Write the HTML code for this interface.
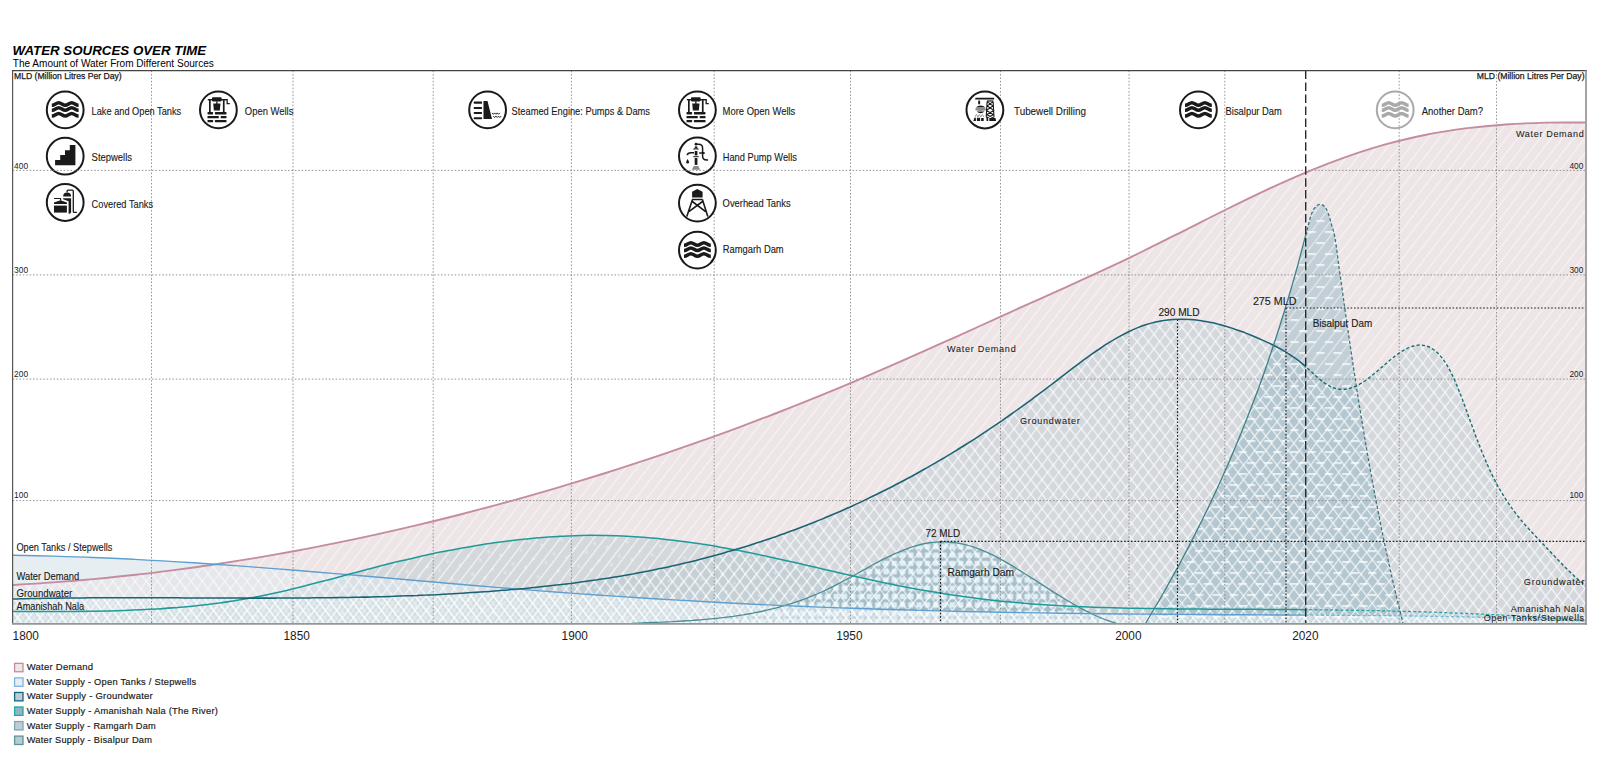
<!DOCTYPE html>
<html lang="en">
<head>
<meta charset="utf-8">
<title>Water Sources Over Time</title>
<style>
html,body{margin:0;padding:0;background:#fff;}
body{width:1600px;height:780px;overflow:hidden;font-family:"Liberation Sans",sans-serif;}
svg{display:block;}
text{font-family:"Liberation Sans",sans-serif;fill:#1a1a1a;}
.t{font-size:10.5px;stroke:#1a1a1a;stroke-width:.12px;}
.s{font-size:9.1px;stroke:#1a1a1a;stroke-width:.06px;}
.ic{font-size:11px;stroke:#1a1a1a;stroke-width:.12px;}
.yr{font-size:12px;}
.tk{font-size:8.5px;}
.tr{font-size:8.3px;stroke:#1a1a1a;stroke-width:.25px;}
.lg{font-size:9.4px;letter-spacing:.25px;stroke:#1a1a1a;stroke-width:.18px;}
</style>
</head>
<body>
<svg width="1600" height="780" viewBox="0 0 1600 780">
<defs>
<pattern id="hF" width="8.87" height="8.87" patternUnits="userSpaceOnUse" patternTransform="rotate(37.6)"><rect x="0" y="0" width="1.15" height="8.87" fill="#fff"/></pattern>
<pattern id="hB" width="8.87" height="8.87" patternUnits="userSpaceOnUse" patternTransform="rotate(-37.6)"><rect x="0" y="0" width="1.35" height="8.87" fill="#fff"/></pattern>
<pattern id="hO" width="8.87" height="8.87" patternUnits="userSpaceOnUse" patternTransform="rotate(37.6)"><rect x="4.43" y="0" width=".9" height="8.87" fill="#fff"/></pattern>
<pattern id="hO2" width="8.87" height="8.87" patternUnits="userSpaceOnUse" patternTransform="rotate(-37.6)"><rect x="4.43" y="0" width=".9" height="8.87" fill="#fff"/></pattern>
<pattern id="pR" width="8.3" height="8.3" patternUnits="userSpaceOnUse" x="2" y="3"><rect x="1.5" y="1.5" width="5.4" height="5.4" rx=".7" fill="#ddeff6"/></pattern>
<pattern id="pA" width="21" height="18" patternUnits="userSpaceOnUse" patternTransform="rotate(-14)"><path d="M3 4.500l3.200 1.800M5.400 3.400l-1.700 3.800M14 12.500l3.200-1.500M15 10.200l1.400 3.600" stroke="#fff" stroke-width=".8" fill="none"/></pattern>
<pattern id="pB" width="17.3" height="22" patternUnits="userSpaceOnUse" x="1307.6" y="220.2"><rect x="8.6" y="0" width="8.2" height="1.6" fill="#fff"/><rect x="0" y="11" width="8.2" height="1.6" fill="#fff"/></pattern>
<clipPath id="cWD"><path d="M12.5 623.9L12.5 585.0C19.2 584.6 39.4 583.4 52.9 582.4C66.3 581.4 79.8 580.3 93.2 579.1C106.7 577.8 120.1 576.5 133.6 575.0C147.0 573.5 160.5 571.8 173.9 570.1C187.4 568.3 200.8 566.5 214.3 564.5C227.7 562.5 241.2 560.3 254.6 558.1C268.1 555.8 281.5 553.5 295.0 551.0C308.4 548.5 321.9 545.9 335.3 543.1C348.8 540.4 362.2 537.6 375.7 534.6C389.1 531.7 402.6 528.6 416.0 525.4C429.5 522.2 442.9 518.9 456.4 515.5C469.8 512.0 483.3 508.5 496.7 504.9C510.2 501.2 523.6 497.5 537.1 493.6C550.6 489.7 564.0 485.8 577.5 481.7C590.9 477.6 604.4 473.4 617.8 469.1C631.3 464.8 644.7 460.4 658.2 455.9C671.6 451.3 685.1 446.7 698.5 441.9C712.0 437.2 725.4 432.3 738.9 427.3C752.3 422.3 765.8 417.2 779.2 412.0C792.7 406.8 806.1 401.4 819.6 395.9C833.0 390.5 846.5 384.9 859.9 379.1C873.4 373.4 886.8 367.6 900.3 361.7C913.7 355.8 927.2 349.8 940.6 343.7C954.1 337.7 967.5 331.6 981.0 325.5C994.4 319.4 1007.9 313.3 1021.3 307.2C1034.8 301.2 1048.2 295.2 1061.7 289.1C1075.2 283.0 1088.6 277.0 1102.1 270.7C1115.5 264.5 1129.0 258.1 1142.4 251.5C1155.9 244.9 1169.3 238.1 1182.8 231.3C1196.2 224.6 1209.7 217.6 1223.1 211.0C1236.6 204.3 1250.0 197.6 1263.5 191.3C1276.9 185.1 1290.4 178.9 1303.8 173.3C1317.3 167.7 1330.7 162.4 1344.2 157.6C1357.6 152.9 1371.1 148.5 1384.5 144.7C1398.0 141.0 1411.4 137.7 1424.9 135.0C1438.3 132.3 1451.8 130.2 1465.2 128.4C1478.7 126.7 1492.1 125.4 1505.6 124.5C1519.0 123.5 1532.5 123.0 1545.9 122.6C1559.4 122.3 1579.6 122.5 1586.3 122.5L1586.3 623.9Z"/></clipPath>
<clipPath id="cGW"><path d="M12.5 623.9L12.5 599.0C14.0 599.0 18.5 598.9 21.5 598.8C24.5 598.7 27.5 598.7 30.5 598.6C33.5 598.5 36.5 598.5 39.5 598.4C42.5 598.4 45.5 598.3 48.5 598.3C51.5 598.2 54.5 598.2 57.5 598.1C60.5 598.1 63.5 598.1 66.5 598.0C69.5 598.0 72.5 598.0 75.5 598.0C78.4 597.9 81.4 597.9 84.4 597.9C87.4 597.9 90.4 597.8 93.4 597.8C96.4 597.8 99.4 597.8 102.4 597.8C105.4 597.8 108.4 597.8 111.4 597.8C114.4 597.8 117.4 597.7 120.4 597.7C123.4 597.7 126.4 597.7 129.4 597.7C132.4 597.7 135.4 597.7 138.4 597.7C141.4 597.7 144.4 597.8 147.4 597.8C150.4 597.8 153.4 597.8 156.4 597.8C159.4 597.8 162.4 597.8 165.4 597.8C168.4 597.8 171.4 597.8 174.4 597.8C177.4 597.8 180.4 597.9 183.4 597.9C186.4 597.9 189.4 597.9 192.4 597.9C195.4 597.9 198.4 597.9 201.4 597.9C204.4 597.9 207.4 598.0 210.3 598.0C213.3 598.0 216.3 598.0 219.3 598.0C222.3 598.0 225.3 598.0 228.3 598.0C231.3 598.0 234.3 598.0 237.3 598.0C240.3 598.1 243.3 598.1 246.3 598.1C249.3 598.1 252.3 598.1 255.3 598.1C258.3 598.1 261.3 598.1 264.3 598.1C267.3 598.1 270.3 598.1 273.3 598.1C276.3 598.1 279.3 598.0 282.3 598.0C285.3 598.0 288.3 598.0 291.3 598.0C294.3 598.0 297.3 598.0 300.3 598.0C303.3 597.9 306.3 597.9 309.3 597.9C312.3 597.9 315.3 597.8 318.3 597.8C321.3 597.8 324.3 597.8 327.3 597.7C330.3 597.7 333.3 597.6 336.3 597.6C339.3 597.6 342.2 597.5 345.2 597.5C348.2 597.4 351.2 597.4 354.2 597.3C357.2 597.2 360.2 597.2 363.2 597.1C366.2 597.1 369.2 597.0 372.2 596.9C375.2 596.8 378.2 596.8 381.2 596.7C384.2 596.6 387.2 596.5 390.2 596.4C393.2 596.3 396.2 596.2 399.2 596.1C402.2 596.0 405.2 595.9 408.2 595.8C411.2 595.7 414.2 595.6 417.2 595.5C420.2 595.3 423.2 595.2 426.2 595.1C429.2 594.9 432.2 594.8 435.2 594.7C438.2 594.5 441.2 594.4 444.2 594.2C447.2 594.1 450.2 593.9 453.2 593.7C456.2 593.6 459.2 593.4 462.2 593.2C465.2 593.0 468.2 592.8 471.2 592.6C474.1 592.5 477.1 592.3 480.1 592.0C483.1 591.8 486.1 591.6 489.1 591.4C492.1 591.2 495.1 591.0 498.1 590.7C501.1 590.5 504.1 590.2 507.1 590.0C510.1 589.7 513.1 589.5 516.1 589.2C519.1 588.9 522.1 588.7 525.1 588.4C528.1 588.1 531.1 587.8 534.1 587.5C537.1 587.2 540.1 586.9 543.1 586.6C546.1 586.3 549.1 585.9 552.1 585.6C555.1 585.3 558.1 584.9 561.1 584.6C564.1 584.2 567.1 583.8 570.1 583.5C573.1 583.1 576.1 582.7 579.1 582.3C582.1 581.9 585.1 581.5 588.1 581.1C591.1 580.6 594.1 580.2 597.1 579.8C600.1 579.3 603.0 578.9 606.0 578.4C609.0 577.9 612.0 577.5 615.0 577.0C618.0 576.5 621.0 576.0 624.0 575.4C627.0 574.9 630.0 574.4 633.0 573.9C636.0 573.3 639.0 572.8 642.0 572.2C645.0 571.6 648.0 571.0 651.0 570.4C654.0 569.8 657.0 569.2 660.0 568.6C663.0 568.0 666.0 567.3 669.0 566.7C672.0 566.0 675.0 565.3 678.0 564.7C681.0 564.0 684.0 563.3 687.0 562.6C690.0 561.8 693.0 561.1 696.0 560.4C699.0 559.6 702.0 558.8 705.0 558.1C708.0 557.3 711.0 556.5 714.0 555.7C717.0 554.9 720.0 554.0 723.0 553.2C726.0 552.4 729.0 551.5 732.0 550.6C734.9 549.7 737.9 548.8 740.9 547.9C743.9 547.0 746.9 546.1 749.9 545.2C752.9 544.2 755.9 543.3 758.9 542.3C761.9 541.3 764.9 540.3 767.9 539.3C770.9 538.3 773.9 537.2 776.9 536.2C779.9 535.1 782.9 534.1 785.9 533.0C788.9 531.9 791.9 530.8 794.9 529.7C797.9 528.6 800.9 527.4 803.9 526.3C806.9 525.1 809.9 523.9 812.9 522.7C815.9 521.5 818.9 520.3 821.9 519.1C824.9 517.9 827.9 516.6 830.9 515.3C833.9 514.1 836.9 512.8 839.9 511.5C842.9 510.2 845.9 508.8 848.9 507.5C851.9 506.1 854.9 504.8 857.9 503.4C860.9 502.0 863.9 500.6 866.8 499.1C869.8 497.7 872.8 496.3 875.8 494.8C878.8 493.3 881.8 491.8 884.8 490.3C887.8 488.8 890.8 487.3 893.8 485.7C896.8 484.2 899.8 482.6 902.8 481.0C905.8 479.4 908.8 477.8 911.8 476.2C914.8 474.6 917.8 472.9 920.8 471.2C923.8 469.5 926.8 467.9 929.8 466.1C932.8 464.4 935.8 462.7 938.8 460.9C941.8 459.2 944.8 457.4 947.8 455.6C950.8 453.8 953.8 451.9 956.8 450.1C959.8 448.3 962.8 446.4 965.8 444.5C968.8 442.6 971.8 440.7 974.8 438.8C977.8 436.8 980.8 434.9 983.8 432.9C986.8 430.9 989.8 428.9 992.8 426.9C995.8 424.9 998.7 422.8 1001.7 420.8C1004.7 418.7 1007.7 416.6 1010.7 414.5C1013.7 412.4 1016.7 410.3 1019.7 408.1C1022.7 406.0 1025.7 403.8 1028.7 401.6C1031.7 399.4 1034.7 397.2 1037.7 394.9C1040.7 392.7 1043.7 390.4 1046.7 388.2C1049.7 385.9 1052.7 383.6 1055.7 381.3C1058.7 378.9 1061.7 376.6 1064.7 374.3C1067.7 372.0 1070.7 369.7 1073.7 367.4C1076.7 365.2 1079.7 362.9 1082.7 360.7C1085.7 358.5 1088.7 356.3 1091.7 354.2C1094.7 352.1 1097.7 350.0 1100.7 348.0C1103.7 346.0 1106.7 344.1 1109.7 342.2C1112.7 340.4 1115.7 338.6 1118.7 336.9C1121.7 335.3 1124.7 333.7 1127.6 332.2C1130.6 330.7 1133.6 329.4 1136.6 328.1C1139.6 326.9 1142.6 325.8 1145.6 324.8C1148.6 323.8 1151.6 322.9 1154.6 322.2C1157.6 321.5 1160.6 320.9 1163.6 320.5C1166.6 320.0 1169.6 319.7 1172.6 319.5C1175.6 319.3 1178.6 319.2 1181.6 319.2C1184.6 319.2 1187.6 319.3 1190.6 319.5C1193.6 319.7 1196.6 320.1 1199.6 320.5C1202.6 320.9 1205.6 321.4 1208.6 322.0C1211.6 322.6 1214.6 323.2 1217.6 324.0C1220.6 324.7 1223.6 325.6 1226.6 326.5C1229.6 327.4 1232.6 328.3 1235.6 329.4C1238.6 330.4 1241.6 331.5 1244.6 332.6C1247.6 333.8 1250.6 335.0 1253.6 336.2C1256.6 337.5 1259.5 338.7 1262.5 340.1C1265.5 341.4 1268.5 342.8 1271.5 344.2C1274.5 345.7 1277.5 347.2 1280.5 348.9C1283.5 350.6 1286.5 352.3 1289.5 354.3C1292.5 356.3 1295.5 358.3 1298.5 360.6C1301.5 363.0 1304.5 365.5 1307.5 368.2C1310.5 370.8 1313.5 373.9 1316.5 376.5C1319.5 379.1 1322.5 381.8 1325.5 383.7C1328.5 385.6 1331.5 387.1 1334.5 388.1C1337.5 389.0 1340.5 389.4 1343.5 389.3C1346.5 389.2 1349.5 388.6 1352.5 387.5C1355.5 386.5 1358.5 384.9 1361.5 383.1C1364.5 381.3 1367.5 379.0 1370.5 376.7C1373.5 374.3 1376.5 371.7 1379.5 369.2C1382.5 366.6 1385.5 363.9 1388.5 361.4C1391.4 359.0 1394.4 356.5 1397.4 354.3C1400.4 352.2 1403.4 350.2 1406.4 348.8C1409.4 347.3 1412.4 346.1 1415.4 345.5C1418.4 345.0 1421.4 344.8 1424.4 345.5C1427.4 346.1 1430.4 347.4 1433.4 349.5C1436.4 351.7 1439.4 354.5 1442.4 358.5C1445.4 362.4 1448.4 367.3 1451.4 373.2C1454.4 379.2 1457.4 386.7 1460.4 394.2C1463.4 401.8 1466.4 410.7 1469.4 418.8C1472.4 426.9 1475.4 435.2 1478.4 442.9C1481.4 450.5 1484.4 458.0 1487.4 464.7C1490.4 471.5 1493.4 477.7 1496.4 483.3C1499.4 489.0 1502.4 494.0 1505.4 498.7C1508.4 503.5 1511.4 507.7 1514.4 511.7C1517.4 515.7 1520.4 519.3 1523.3 522.8C1526.3 526.3 1529.3 529.5 1532.3 532.7C1535.3 535.9 1538.3 539.0 1541.3 542.2C1544.3 545.4 1547.3 548.6 1550.3 551.7C1553.3 554.9 1556.3 558.1 1559.3 561.2C1562.3 564.3 1565.3 567.4 1568.3 570.3C1571.3 573.2 1574.3 576.1 1577.3 578.7C1580.3 581.3 1584.8 584.8 1586.3 586.0L1586.3 623.9Z"/></clipPath>
<clipPath id="cFrame"><rect x="12.6" y="70.6" width="1573.4" height="553.3"/></clipPath>
<clipPath id="cPast"><rect x="12.6" y="70.6" width="1293.3" height="553.3"/></clipPath>
<clipPath id="cFut"><rect x="1305.9" y="70.6" width="280.1" height="553.3"/></clipPath>
<clipPath id="cW"><rect x="-13.4" y="-12" width="26.8" height="24"/></clipPath>
</defs>
<rect width="1600" height="780" fill="#fff"/>
<g clip-path="url(#cFrame)">
<path d="M12.5 623.9L12.5 555.3C19.2 555.4 39.4 555.7 52.9 556.1C66.3 556.5 79.8 556.9 93.2 557.5C106.7 558.0 120.1 558.6 133.6 559.3C147.0 560.0 160.5 560.7 173.9 561.6C187.4 562.4 200.8 563.3 214.3 564.2C227.7 565.1 241.2 566.1 254.6 567.1C268.1 568.1 281.5 569.2 295.0 570.3C308.4 571.3 321.9 572.5 335.3 573.6C348.8 574.7 362.2 575.9 375.7 577.0C389.1 578.2 402.6 579.3 416.0 580.5C429.5 581.7 442.9 582.8 456.4 584.0C469.8 585.1 483.3 586.3 496.7 587.4C510.2 588.5 523.6 589.6 537.1 590.6C550.6 591.6 564.0 592.7 577.5 593.6C590.9 594.6 604.4 595.5 617.8 596.4C631.3 597.3 644.7 598.2 658.2 599.0C671.6 599.8 685.1 600.6 698.5 601.3C712.0 602.1 725.4 602.8 738.9 603.5C752.3 604.1 765.8 604.8 779.2 605.4C792.7 606.0 806.1 606.5 819.6 607.1C833.0 607.6 846.5 608.1 859.9 608.5C873.4 609.0 886.8 609.4 900.3 609.8C913.7 610.2 927.2 610.6 940.6 610.9C954.1 611.3 967.5 611.6 981.0 611.8C994.4 612.1 1007.9 612.4 1021.3 612.6C1034.8 612.8 1048.2 613.0 1061.7 613.2C1075.2 613.4 1088.6 613.6 1102.1 613.7C1115.5 613.9 1129.0 614.0 1142.4 614.1C1155.9 614.2 1169.3 614.3 1182.8 614.4C1196.2 614.5 1209.7 614.6 1223.1 614.7C1236.6 614.8 1250.0 614.8 1263.5 614.9C1276.9 615.0 1290.4 615.0 1303.8 615.1C1317.3 615.2 1330.7 615.3 1344.2 615.4C1357.6 615.5 1371.1 615.6 1384.5 615.7C1398.0 615.8 1411.4 616.0 1424.9 616.2C1438.3 616.4 1451.8 616.6 1465.2 616.9C1478.7 617.2 1492.1 617.5 1505.6 617.9C1519.0 618.4 1532.5 618.8 1545.9 619.4C1559.4 619.9 1579.6 621.0 1586.3 621.3L1586.3 623.9Z" fill="#ebf0f2"/>
<path d="M12.5 623.9L12.5 585.0C19.2 584.6 39.4 583.4 52.9 582.4C66.3 581.4 79.8 580.3 93.2 579.1C106.7 577.8 120.1 576.5 133.6 575.0C147.0 573.5 160.5 571.8 173.9 570.1C187.4 568.3 200.8 566.5 214.3 564.5C227.7 562.5 241.2 560.3 254.6 558.1C268.1 555.8 281.5 553.5 295.0 551.0C308.4 548.5 321.9 545.9 335.3 543.1C348.8 540.4 362.2 537.6 375.7 534.6C389.1 531.7 402.6 528.6 416.0 525.4C429.5 522.2 442.9 518.9 456.4 515.5C469.8 512.0 483.3 508.5 496.7 504.9C510.2 501.2 523.6 497.5 537.1 493.6C550.6 489.7 564.0 485.8 577.5 481.7C590.9 477.6 604.4 473.4 617.8 469.1C631.3 464.8 644.7 460.4 658.2 455.9C671.6 451.3 685.1 446.7 698.5 441.9C712.0 437.2 725.4 432.3 738.9 427.3C752.3 422.3 765.8 417.2 779.2 412.0C792.7 406.8 806.1 401.4 819.6 395.9C833.0 390.5 846.5 384.9 859.9 379.1C873.4 373.4 886.8 367.6 900.3 361.7C913.7 355.8 927.2 349.8 940.6 343.7C954.1 337.7 967.5 331.6 981.0 325.5C994.4 319.4 1007.9 313.3 1021.3 307.2C1034.8 301.2 1048.2 295.2 1061.7 289.1C1075.2 283.0 1088.6 277.0 1102.1 270.7C1115.5 264.5 1129.0 258.1 1142.4 251.5C1155.9 244.9 1169.3 238.1 1182.8 231.3C1196.2 224.6 1209.7 217.6 1223.1 211.0C1236.6 204.3 1250.0 197.6 1263.5 191.3C1276.9 185.1 1290.4 178.9 1303.8 173.3C1317.3 167.7 1330.7 162.4 1344.2 157.6C1357.6 152.9 1371.1 148.5 1384.5 144.7C1398.0 141.0 1411.4 137.7 1424.9 135.0C1438.3 132.3 1451.8 130.2 1465.2 128.4C1478.7 126.7 1492.1 125.4 1505.6 124.5C1519.0 123.5 1532.5 123.0 1545.9 122.6C1559.4 122.3 1579.6 122.5 1586.3 122.5L1586.3 623.9Z" fill="#e9dee0" fill-opacity=".78"/>
<path d="M12.5 623.9L12.5 599.0C14.0 599.0 18.5 598.9 21.5 598.8C24.5 598.7 27.5 598.7 30.5 598.6C33.5 598.5 36.5 598.5 39.5 598.4C42.5 598.4 45.5 598.3 48.5 598.3C51.5 598.2 54.5 598.2 57.5 598.1C60.5 598.1 63.5 598.1 66.5 598.0C69.5 598.0 72.5 598.0 75.5 598.0C78.4 597.9 81.4 597.9 84.4 597.9C87.4 597.9 90.4 597.8 93.4 597.8C96.4 597.8 99.4 597.8 102.4 597.8C105.4 597.8 108.4 597.8 111.4 597.8C114.4 597.8 117.4 597.7 120.4 597.7C123.4 597.7 126.4 597.7 129.4 597.7C132.4 597.7 135.4 597.7 138.4 597.7C141.4 597.7 144.4 597.8 147.4 597.8C150.4 597.8 153.4 597.8 156.4 597.8C159.4 597.8 162.4 597.8 165.4 597.8C168.4 597.8 171.4 597.8 174.4 597.8C177.4 597.8 180.4 597.9 183.4 597.9C186.4 597.9 189.4 597.9 192.4 597.9C195.4 597.9 198.4 597.9 201.4 597.9C204.4 597.9 207.4 598.0 210.3 598.0C213.3 598.0 216.3 598.0 219.3 598.0C222.3 598.0 225.3 598.0 228.3 598.0C231.3 598.0 234.3 598.0 237.3 598.0C240.3 598.1 243.3 598.1 246.3 598.1C249.3 598.1 252.3 598.1 255.3 598.1C258.3 598.1 261.3 598.1 264.3 598.1C267.3 598.1 270.3 598.1 273.3 598.1C276.3 598.1 279.3 598.0 282.3 598.0C285.3 598.0 288.3 598.0 291.3 598.0C294.3 598.0 297.3 598.0 300.3 598.0C303.3 597.9 306.3 597.9 309.3 597.9C312.3 597.9 315.3 597.8 318.3 597.8C321.3 597.8 324.3 597.8 327.3 597.7C330.3 597.7 333.3 597.6 336.3 597.6C339.3 597.6 342.2 597.5 345.2 597.5C348.2 597.4 351.2 597.4 354.2 597.3C357.2 597.2 360.2 597.2 363.2 597.1C366.2 597.1 369.2 597.0 372.2 596.9C375.2 596.8 378.2 596.8 381.2 596.7C384.2 596.6 387.2 596.5 390.2 596.4C393.2 596.3 396.2 596.2 399.2 596.1C402.2 596.0 405.2 595.9 408.2 595.8C411.2 595.7 414.2 595.6 417.2 595.5C420.2 595.3 423.2 595.2 426.2 595.1C429.2 594.9 432.2 594.8 435.2 594.7C438.2 594.5 441.2 594.4 444.2 594.2C447.2 594.1 450.2 593.9 453.2 593.7C456.2 593.6 459.2 593.4 462.2 593.2C465.2 593.0 468.2 592.8 471.2 592.6C474.1 592.5 477.1 592.3 480.1 592.0C483.1 591.8 486.1 591.6 489.1 591.4C492.1 591.2 495.1 591.0 498.1 590.7C501.1 590.5 504.1 590.2 507.1 590.0C510.1 589.7 513.1 589.5 516.1 589.2C519.1 588.9 522.1 588.7 525.1 588.4C528.1 588.1 531.1 587.8 534.1 587.5C537.1 587.2 540.1 586.9 543.1 586.6C546.1 586.3 549.1 585.9 552.1 585.6C555.1 585.3 558.1 584.9 561.1 584.6C564.1 584.2 567.1 583.8 570.1 583.5C573.1 583.1 576.1 582.7 579.1 582.3C582.1 581.9 585.1 581.5 588.1 581.1C591.1 580.6 594.1 580.2 597.1 579.8C600.1 579.3 603.0 578.9 606.0 578.4C609.0 577.9 612.0 577.5 615.0 577.0C618.0 576.5 621.0 576.0 624.0 575.4C627.0 574.9 630.0 574.4 633.0 573.9C636.0 573.3 639.0 572.8 642.0 572.2C645.0 571.6 648.0 571.0 651.0 570.4C654.0 569.8 657.0 569.2 660.0 568.6C663.0 568.0 666.0 567.3 669.0 566.7C672.0 566.0 675.0 565.3 678.0 564.7C681.0 564.0 684.0 563.3 687.0 562.6C690.0 561.8 693.0 561.1 696.0 560.4C699.0 559.6 702.0 558.8 705.0 558.1C708.0 557.3 711.0 556.5 714.0 555.7C717.0 554.9 720.0 554.0 723.0 553.2C726.0 552.4 729.0 551.5 732.0 550.6C734.9 549.7 737.9 548.8 740.9 547.9C743.9 547.0 746.9 546.1 749.9 545.2C752.9 544.2 755.9 543.3 758.9 542.3C761.9 541.3 764.9 540.3 767.9 539.3C770.9 538.3 773.9 537.2 776.9 536.2C779.9 535.1 782.9 534.1 785.9 533.0C788.9 531.9 791.9 530.8 794.9 529.7C797.9 528.6 800.9 527.4 803.9 526.3C806.9 525.1 809.9 523.9 812.9 522.7C815.9 521.5 818.9 520.3 821.9 519.1C824.9 517.9 827.9 516.6 830.9 515.3C833.9 514.1 836.9 512.8 839.9 511.5C842.9 510.2 845.9 508.8 848.9 507.5C851.9 506.1 854.9 504.8 857.9 503.4C860.9 502.0 863.9 500.6 866.8 499.1C869.8 497.7 872.8 496.3 875.8 494.8C878.8 493.3 881.8 491.8 884.8 490.3C887.8 488.8 890.8 487.3 893.8 485.7C896.8 484.2 899.8 482.6 902.8 481.0C905.8 479.4 908.8 477.8 911.8 476.2C914.8 474.6 917.8 472.9 920.8 471.2C923.8 469.5 926.8 467.9 929.8 466.1C932.8 464.4 935.8 462.7 938.8 460.9C941.8 459.2 944.8 457.4 947.8 455.6C950.8 453.8 953.8 451.9 956.8 450.1C959.8 448.3 962.8 446.4 965.8 444.5C968.8 442.6 971.8 440.7 974.8 438.8C977.8 436.8 980.8 434.9 983.8 432.9C986.8 430.9 989.8 428.9 992.8 426.9C995.8 424.9 998.7 422.8 1001.7 420.8C1004.7 418.7 1007.7 416.6 1010.7 414.5C1013.7 412.4 1016.7 410.3 1019.7 408.1C1022.7 406.0 1025.7 403.8 1028.7 401.6C1031.7 399.4 1034.7 397.2 1037.7 394.9C1040.7 392.7 1043.7 390.4 1046.7 388.2C1049.7 385.9 1052.7 383.6 1055.7 381.3C1058.7 378.9 1061.7 376.6 1064.7 374.3C1067.7 372.0 1070.7 369.7 1073.7 367.4C1076.7 365.2 1079.7 362.9 1082.7 360.7C1085.7 358.5 1088.7 356.3 1091.7 354.2C1094.7 352.1 1097.7 350.0 1100.7 348.0C1103.7 346.0 1106.7 344.1 1109.7 342.2C1112.7 340.4 1115.7 338.6 1118.7 336.9C1121.7 335.3 1124.7 333.7 1127.6 332.2C1130.6 330.7 1133.6 329.4 1136.6 328.1C1139.6 326.9 1142.6 325.8 1145.6 324.8C1148.6 323.8 1151.6 322.9 1154.6 322.2C1157.6 321.5 1160.6 320.9 1163.6 320.5C1166.6 320.0 1169.6 319.7 1172.6 319.5C1175.6 319.3 1178.6 319.2 1181.6 319.2C1184.6 319.2 1187.6 319.3 1190.6 319.5C1193.6 319.7 1196.6 320.1 1199.6 320.5C1202.6 320.9 1205.6 321.4 1208.6 322.0C1211.6 322.6 1214.6 323.2 1217.6 324.0C1220.6 324.7 1223.6 325.6 1226.6 326.5C1229.6 327.4 1232.6 328.3 1235.6 329.4C1238.6 330.4 1241.6 331.5 1244.6 332.6C1247.6 333.8 1250.6 335.0 1253.6 336.2C1256.6 337.5 1259.5 338.7 1262.5 340.1C1265.5 341.4 1268.5 342.8 1271.5 344.2C1274.5 345.7 1277.5 347.2 1280.5 348.9C1283.5 350.6 1286.5 352.3 1289.5 354.3C1292.5 356.3 1295.5 358.3 1298.5 360.6C1301.5 363.0 1304.5 365.5 1307.5 368.2C1310.5 370.8 1313.5 373.9 1316.5 376.5C1319.5 379.1 1322.5 381.8 1325.5 383.7C1328.5 385.6 1331.5 387.1 1334.5 388.1C1337.5 389.0 1340.5 389.4 1343.5 389.3C1346.5 389.2 1349.5 388.6 1352.5 387.5C1355.5 386.5 1358.5 384.9 1361.5 383.1C1364.5 381.3 1367.5 379.0 1370.5 376.7C1373.5 374.3 1376.5 371.7 1379.5 369.2C1382.5 366.6 1385.5 363.9 1388.5 361.4C1391.4 359.0 1394.4 356.5 1397.4 354.3C1400.4 352.2 1403.4 350.2 1406.4 348.8C1409.4 347.3 1412.4 346.1 1415.4 345.5C1418.4 345.0 1421.4 344.8 1424.4 345.5C1427.4 346.1 1430.4 347.4 1433.4 349.5C1436.4 351.7 1439.4 354.5 1442.4 358.5C1445.4 362.4 1448.4 367.3 1451.4 373.2C1454.4 379.2 1457.4 386.7 1460.4 394.2C1463.4 401.8 1466.4 410.7 1469.4 418.8C1472.4 426.9 1475.4 435.2 1478.4 442.9C1481.4 450.5 1484.4 458.0 1487.4 464.7C1490.4 471.5 1493.4 477.7 1496.4 483.3C1499.4 489.0 1502.4 494.0 1505.4 498.7C1508.4 503.5 1511.4 507.7 1514.4 511.7C1517.4 515.7 1520.4 519.3 1523.3 522.8C1526.3 526.3 1529.3 529.5 1532.3 532.7C1535.3 535.9 1538.3 539.0 1541.3 542.2C1544.3 545.4 1547.3 548.6 1550.3 551.7C1553.3 554.9 1556.3 558.1 1559.3 561.2C1562.3 564.3 1565.3 567.4 1568.3 570.3C1571.3 573.2 1574.3 576.1 1577.3 578.7C1580.3 581.3 1584.8 584.8 1586.3 586.0L1586.3 623.9Z" fill="#bfcdd6" fill-opacity=".55"/>
<path d="M12.5 623.9L12.5 611.5C15.2 611.5 23.2 611.5 28.6 611.5C33.9 611.5 39.3 611.5 44.6 611.5C50.0 611.5 55.3 611.5 60.7 611.4C66.0 611.4 71.4 611.4 76.7 611.4C82.1 611.3 87.4 611.2 92.8 611.2C98.1 611.1 103.5 611.0 108.9 610.9C114.2 610.7 119.6 610.6 124.9 610.4C130.3 610.2 135.6 610.0 141.0 609.8C146.3 609.5 151.7 609.2 157.0 608.9C162.4 608.6 167.7 608.2 173.1 607.8C178.4 607.4 183.8 606.9 189.2 606.4C194.5 605.9 199.9 605.3 205.2 604.7C210.6 604.1 215.9 603.4 221.3 602.7C226.6 601.9 232.0 601.2 237.3 600.3C242.7 599.4 248.0 598.5 253.4 597.5C258.7 596.5 264.1 595.4 269.4 594.3C274.8 593.1 280.2 591.9 285.5 590.7C290.9 589.4 296.2 588.1 301.6 586.7C306.9 585.4 312.3 584.0 317.6 582.6C323.0 581.2 328.3 579.8 333.7 578.4C339.0 576.9 344.4 575.5 349.7 574.0C355.1 572.6 360.4 571.2 365.8 569.8C371.2 568.4 376.5 567.0 381.9 565.6C387.2 564.3 392.6 562.9 397.9 561.6C403.3 560.3 408.6 559.1 414.0 557.9C419.3 556.7 424.7 555.5 430.0 554.3C435.4 553.2 440.7 552.1 446.1 551.1C451.5 550.0 456.8 549.0 462.2 548.0C467.5 547.1 472.9 546.2 478.2 545.3C483.6 544.4 488.9 543.6 494.3 542.8C499.6 542.1 505.0 541.4 510.3 540.7C515.7 540.1 521.0 539.5 526.4 538.9C531.7 538.4 537.1 537.9 542.5 537.5C547.8 537.0 553.2 536.7 558.5 536.4C563.9 536.1 569.2 535.8 574.6 535.7C579.9 535.5 585.3 535.4 590.6 535.3C596.0 535.3 601.3 535.4 606.7 535.5C612.0 535.6 617.4 535.7 622.7 536.0C628.1 536.2 633.5 536.5 638.8 536.9C644.2 537.3 649.5 537.7 654.9 538.2C660.2 538.7 665.6 539.3 670.9 539.9C676.3 540.5 681.6 541.2 687.0 541.9C692.3 542.6 697.7 543.4 703.0 544.2C708.4 545.1 713.8 545.9 719.1 546.9C724.5 547.8 729.8 548.8 735.2 549.8C740.5 550.8 745.9 551.9 751.2 553.0C756.6 554.1 761.9 555.2 767.3 556.4C772.6 557.6 778.0 558.7 783.3 559.9C788.7 561.1 794.0 562.4 799.4 563.6C804.8 564.8 810.1 566.1 815.5 567.3C820.8 568.5 826.2 569.8 831.5 571.0C836.9 572.3 842.2 573.5 847.6 574.7C852.9 575.9 858.3 577.2 863.6 578.3C869.0 579.5 874.3 580.7 879.7 581.8C885.0 583.0 890.4 584.1 895.8 585.2C901.1 586.2 906.5 587.3 911.8 588.3C917.2 589.2 922.5 590.2 927.9 591.1C933.2 592.0 938.6 592.9 943.9 593.7C949.3 594.6 954.6 595.4 960.0 596.1C965.3 596.9 970.7 597.6 976.1 598.3C981.4 598.9 986.8 599.6 992.1 600.2C997.5 600.8 1002.8 601.3 1008.2 601.8C1013.5 602.3 1018.9 602.8 1024.2 603.3C1029.6 603.7 1034.9 604.1 1040.3 604.5C1045.6 604.8 1051.0 605.2 1056.3 605.5C1061.7 605.8 1067.1 606.1 1072.4 606.3C1077.8 606.6 1083.1 606.8 1088.5 607.0C1093.8 607.2 1099.2 607.4 1104.5 607.5C1109.9 607.7 1115.2 607.8 1120.6 608.0C1125.9 608.1 1131.3 608.2 1136.6 608.3C1142.0 608.4 1147.3 608.5 1152.7 608.6C1158.1 608.7 1163.4 608.7 1168.8 608.8C1174.1 608.9 1179.5 608.9 1184.8 609.0C1190.2 609.0 1195.5 609.1 1200.9 609.1C1206.2 609.1 1211.6 609.2 1216.9 609.2C1222.3 609.2 1227.6 609.2 1233.0 609.3C1238.4 609.3 1243.7 609.3 1249.1 609.3C1254.4 609.3 1259.8 609.4 1265.1 609.4C1270.5 609.4 1275.8 609.4 1281.2 609.5C1286.5 609.5 1291.9 609.5 1297.2 609.6C1302.6 609.6 1307.9 609.7 1313.3 609.7C1318.6 609.8 1324.0 609.8 1329.4 609.9C1334.7 610.0 1340.1 610.0 1345.4 610.1C1350.8 610.2 1356.1 610.3 1361.5 610.4C1366.8 610.5 1372.2 610.6 1377.5 610.7C1382.9 610.8 1388.2 610.9 1393.6 611.1C1398.9 611.2 1404.3 611.3 1409.6 611.5C1415.0 611.6 1420.4 611.8 1425.7 612.0C1431.1 612.1 1436.4 612.3 1441.8 612.5C1447.1 612.7 1452.5 612.9 1457.8 613.1C1463.2 613.3 1468.5 613.5 1473.9 613.8C1479.2 614.0 1484.6 614.3 1489.9 614.5C1495.3 614.8 1500.7 615.0 1506.0 615.3C1511.4 615.6 1516.7 615.9 1522.1 616.2C1527.4 616.5 1532.8 616.8 1538.1 617.2C1543.5 617.5 1548.8 617.8 1554.2 618.2C1559.5 618.5 1564.9 618.9 1570.2 619.3C1575.6 619.7 1583.6 620.3 1586.3 620.5L1586.3 623.9Z" fill="#adc6cb" fill-opacity=".40"/>
<path d="M632.0 623.9L632.0 623.5C633.7 623.4 638.7 623.2 642.1 623.0C645.5 622.8 648.8 622.7 652.2 622.5C655.6 622.4 658.9 622.2 662.3 622.1C665.7 621.9 669.0 621.7 672.4 621.6C675.7 621.4 679.1 621.2 682.5 621.0C685.8 620.8 689.2 620.6 692.6 620.4C695.9 620.1 699.3 619.9 702.7 619.6C706.0 619.3 709.4 619.0 712.8 618.7C716.1 618.4 719.5 618.0 722.9 617.6C726.2 617.2 729.6 616.8 733.0 616.4C736.3 615.9 739.7 615.4 743.1 614.9C746.4 614.3 749.8 613.7 753.1 613.1C756.5 612.4 759.9 611.8 763.2 611.0C766.6 610.3 770.0 609.5 773.3 608.7C776.7 607.8 780.1 606.9 783.4 605.9C786.8 605.0 790.2 603.9 793.5 602.8C796.9 601.7 800.3 600.6 803.6 599.3C807.0 598.1 810.4 596.8 813.7 595.4C817.1 594.0 820.5 592.5 823.8 591.0C827.2 589.4 830.6 587.8 833.9 586.1C837.3 584.4 840.6 582.6 844.0 580.8C847.4 579.0 850.7 577.1 854.1 575.2C857.5 573.3 860.8 571.4 864.2 569.6C867.6 567.7 870.9 565.8 874.3 564.0C877.7 562.2 881.0 560.4 884.4 558.7C887.8 557.0 891.1 555.4 894.5 553.8C897.9 552.3 901.2 550.9 904.6 549.6C908.0 548.3 911.3 547.1 914.7 546.1C918.0 545.1 921.4 544.2 924.8 543.5C928.1 542.9 931.5 542.4 934.9 542.1C938.2 541.8 941.6 541.7 945.0 541.8C948.3 541.9 951.7 542.2 955.1 542.6C958.4 543.1 961.8 543.7 965.2 544.6C968.5 545.4 971.9 546.4 975.3 547.6C978.6 548.8 982.0 550.1 985.4 551.6C988.7 553.0 992.1 554.7 995.4 556.4C998.8 558.1 1002.2 560.0 1005.5 561.9C1008.9 563.8 1012.3 565.8 1015.6 567.9C1019.0 569.9 1022.4 572.0 1025.7 574.2C1029.1 576.3 1032.5 578.5 1035.8 580.6C1039.2 582.8 1042.6 585.0 1045.9 587.1C1049.3 589.3 1052.7 591.5 1056.0 593.6C1059.4 595.7 1062.8 597.8 1066.1 599.8C1069.5 601.8 1072.9 603.8 1076.2 605.7C1079.6 607.6 1082.9 609.4 1086.3 611.1C1089.7 612.8 1093.0 614.5 1096.4 616.0C1099.8 617.5 1103.1 618.9 1106.5 620.1C1109.9 621.4 1114.9 622.9 1116.6 623.5L1116.6 623.9Z" fill="#9cb7c2" fill-opacity=".8"/>
<path d="M632.0 623.9L632.0 623.5C633.7 623.4 638.7 623.2 642.1 623.0C645.5 622.8 648.8 622.7 652.2 622.5C655.6 622.4 658.9 622.2 662.3 622.1C665.7 621.9 669.0 621.7 672.4 621.6C675.7 621.4 679.1 621.2 682.5 621.0C685.8 620.8 689.2 620.6 692.6 620.4C695.9 620.1 699.3 619.9 702.7 619.6C706.0 619.3 709.4 619.0 712.8 618.7C716.1 618.4 719.5 618.0 722.9 617.6C726.2 617.2 729.6 616.8 733.0 616.4C736.3 615.9 739.7 615.4 743.1 614.9C746.4 614.3 749.8 613.7 753.1 613.1C756.5 612.4 759.9 611.8 763.2 611.0C766.6 610.3 770.0 609.5 773.3 608.7C776.7 607.8 780.1 606.9 783.4 605.9C786.8 605.0 790.2 603.9 793.5 602.8C796.9 601.7 800.3 600.6 803.6 599.3C807.0 598.1 810.4 596.8 813.7 595.4C817.1 594.0 820.5 592.5 823.8 591.0C827.2 589.4 830.6 587.8 833.9 586.1C837.3 584.4 840.6 582.6 844.0 580.8C847.4 579.0 850.7 577.1 854.1 575.2C857.5 573.3 860.8 571.4 864.2 569.6C867.6 567.7 870.9 565.8 874.3 564.0C877.7 562.2 881.0 560.4 884.4 558.7C887.8 557.0 891.1 555.4 894.5 553.8C897.9 552.3 901.2 550.9 904.6 549.6C908.0 548.3 911.3 547.1 914.7 546.1C918.0 545.1 921.4 544.2 924.8 543.5C928.1 542.9 931.5 542.4 934.9 542.1C938.2 541.8 941.6 541.7 945.0 541.8C948.3 541.9 951.7 542.2 955.1 542.6C958.4 543.1 961.8 543.7 965.2 544.6C968.5 545.4 971.9 546.4 975.3 547.6C978.6 548.8 982.0 550.1 985.4 551.6C988.7 553.0 992.1 554.7 995.4 556.4C998.8 558.1 1002.2 560.0 1005.5 561.9C1008.9 563.8 1012.3 565.8 1015.6 567.9C1019.0 569.9 1022.4 572.0 1025.7 574.2C1029.1 576.3 1032.5 578.5 1035.8 580.6C1039.2 582.8 1042.6 585.0 1045.9 587.1C1049.3 589.3 1052.7 591.5 1056.0 593.6C1059.4 595.7 1062.8 597.8 1066.1 599.8C1069.5 601.8 1072.9 603.8 1076.2 605.7C1079.6 607.6 1082.9 609.4 1086.3 611.1C1089.7 612.8 1093.0 614.5 1096.4 616.0C1099.8 617.5 1103.1 618.9 1106.5 620.1C1109.9 621.4 1114.9 622.9 1116.6 623.5L1116.6 623.9Z" fill="url(#pR)"/>
<path d="M1145.5 623.9L1145.5 623.5C1148.4 618.5 1157.3 603.7 1163.0 593.8C1168.6 583.9 1174.1 574.0 1179.5 564.1C1184.8 554.2 1190.0 544.3 1195.0 534.4C1200.0 524.5 1204.9 514.6 1209.6 504.7C1214.3 494.8 1218.9 484.9 1223.3 475.0C1227.7 465.1 1232.0 455.2 1236.1 445.3C1240.3 435.4 1244.3 425.5 1248.1 415.6C1252.0 405.7 1255.7 395.8 1259.4 385.9C1263.0 376.0 1266.5 366.1 1269.8 356.2C1273.2 346.3 1276.5 336.4 1279.6 326.5C1282.8 316.6 1285.8 306.7 1288.7 296.8C1291.7 286.9 1294.5 277.0 1297.2 267.1C1299.9 257.2 1303.2 244.4 1305.1 237.4C1307.0 230.4 1307.3 228.8 1308.4 224.8C1309.5 220.8 1310.4 216.6 1311.6 213.6C1312.8 210.6 1314.2 208.4 1315.6 206.8C1317.0 205.2 1318.7 204.3 1320.2 204.3C1321.7 204.3 1323.3 205.1 1324.6 206.6C1325.9 208.1 1327.0 210.4 1328.2 213.4C1329.4 216.4 1330.4 220.6 1331.5 224.6C1332.6 228.6 1333.7 230.3 1334.9 237.4C1336.2 244.5 1337.7 257.2 1339.0 267.1C1340.4 277.0 1341.8 286.9 1343.2 296.8C1344.6 306.7 1346.0 316.6 1347.4 326.5C1348.9 336.4 1350.3 346.3 1351.8 356.2C1353.3 366.1 1354.8 376.0 1356.3 385.9C1357.8 395.8 1359.4 405.7 1361.0 415.6C1362.6 425.5 1364.3 435.4 1366.0 445.3C1367.7 455.2 1369.4 465.1 1371.2 475.0C1373.0 484.9 1374.8 494.8 1376.8 504.7C1378.7 514.6 1380.6 524.5 1382.7 534.4C1384.7 544.3 1386.8 554.2 1389.0 564.1C1391.2 574.0 1393.5 583.9 1395.8 593.8C1398.2 603.7 1401.9 618.5 1403.1 623.5L1403.1 623.9Z" fill="#8fb3c2" fill-opacity=".45"/>
<path d="M12.5 623.9L12.5 555.3C19.2 555.4 39.4 555.7 52.9 556.1C66.3 556.5 79.8 556.9 93.2 557.5C106.7 558.0 120.1 558.6 133.6 559.3C147.0 560.0 160.5 560.7 173.9 561.6C187.4 562.4 200.8 563.3 214.3 564.2C227.7 565.1 241.2 566.1 254.6 567.1C268.1 568.1 281.5 569.2 295.0 570.3C308.4 571.3 321.9 572.5 335.3 573.6C348.8 574.7 362.2 575.9 375.7 577.0C389.1 578.2 402.6 579.3 416.0 580.5C429.5 581.7 442.9 582.8 456.4 584.0C469.8 585.1 483.3 586.3 496.7 587.4C510.2 588.5 523.6 589.6 537.1 590.6C550.6 591.6 564.0 592.7 577.5 593.6C590.9 594.6 604.4 595.5 617.8 596.4C631.3 597.3 644.7 598.2 658.2 599.0C671.6 599.8 685.1 600.6 698.5 601.3C712.0 602.1 725.4 602.8 738.9 603.5C752.3 604.1 765.8 604.8 779.2 605.4C792.7 606.0 806.1 606.5 819.6 607.1C833.0 607.6 846.5 608.1 859.9 608.5C873.4 609.0 886.8 609.4 900.3 609.8C913.7 610.2 927.2 610.6 940.6 610.9C954.1 611.3 967.5 611.6 981.0 611.8C994.4 612.1 1007.9 612.4 1021.3 612.6C1034.8 612.8 1048.2 613.0 1061.7 613.2C1075.2 613.4 1088.6 613.6 1102.1 613.7C1115.5 613.9 1129.0 614.0 1142.4 614.1C1155.9 614.2 1169.3 614.3 1182.8 614.4C1196.2 614.5 1209.7 614.6 1223.1 614.7C1236.6 614.8 1250.0 614.8 1263.5 614.9C1276.9 615.0 1290.4 615.0 1303.8 615.1C1317.3 615.2 1330.7 615.3 1344.2 615.4C1357.6 615.5 1371.1 615.6 1384.5 615.7C1398.0 615.8 1411.4 616.0 1424.9 616.2C1438.3 616.4 1451.8 616.6 1465.2 616.9C1478.7 617.2 1492.1 617.5 1505.6 617.9C1519.0 618.4 1532.5 618.8 1545.9 619.4C1559.4 619.9 1579.6 621.0 1586.3 621.3L1586.3 623.9Z" fill="#e2ecf1" fill-opacity=".5"/>
<path d="M12.5 623.9L12.5 585.0C19.2 584.6 39.4 583.4 52.9 582.4C66.3 581.4 79.8 580.3 93.2 579.1C106.7 577.8 120.1 576.5 133.6 575.0C147.0 573.5 160.5 571.8 173.9 570.1C187.4 568.3 200.8 566.5 214.3 564.5C227.7 562.5 241.2 560.3 254.6 558.1C268.1 555.8 281.5 553.5 295.0 551.0C308.4 548.5 321.9 545.9 335.3 543.1C348.8 540.4 362.2 537.6 375.7 534.6C389.1 531.7 402.6 528.6 416.0 525.4C429.5 522.2 442.9 518.9 456.4 515.5C469.8 512.0 483.3 508.5 496.7 504.9C510.2 501.2 523.6 497.5 537.1 493.6C550.6 489.7 564.0 485.8 577.5 481.7C590.9 477.6 604.4 473.4 617.8 469.1C631.3 464.8 644.7 460.4 658.2 455.9C671.6 451.3 685.1 446.7 698.5 441.9C712.0 437.2 725.4 432.3 738.9 427.3C752.3 422.3 765.8 417.2 779.2 412.0C792.7 406.8 806.1 401.4 819.6 395.9C833.0 390.5 846.5 384.9 859.9 379.1C873.4 373.4 886.8 367.6 900.3 361.7C913.7 355.8 927.2 349.8 940.6 343.7C954.1 337.7 967.5 331.6 981.0 325.5C994.4 319.4 1007.9 313.3 1021.3 307.2C1034.8 301.2 1048.2 295.2 1061.7 289.1C1075.2 283.0 1088.6 277.0 1102.1 270.7C1115.5 264.5 1129.0 258.1 1142.4 251.5C1155.9 244.9 1169.3 238.1 1182.8 231.3C1196.2 224.6 1209.7 217.6 1223.1 211.0C1236.6 204.3 1250.0 197.6 1263.5 191.3C1276.9 185.1 1290.4 178.9 1303.8 173.3C1317.3 167.7 1330.7 162.4 1344.2 157.6C1357.6 152.9 1371.1 148.5 1384.5 144.7C1398.0 141.0 1411.4 137.7 1424.9 135.0C1438.3 132.3 1451.8 130.2 1465.2 128.4C1478.7 126.7 1492.1 125.4 1505.6 124.5C1519.0 123.5 1532.5 123.0 1545.9 122.6C1559.4 122.3 1579.6 122.5 1586.3 122.5L1586.3 623.9Z" fill="url(#hF)" opacity=".55"/>
<path d="M12.5 623.9L12.5 599.0C14.0 599.0 18.5 598.9 21.5 598.8C24.5 598.7 27.5 598.7 30.5 598.6C33.5 598.5 36.5 598.5 39.5 598.4C42.5 598.4 45.5 598.3 48.5 598.3C51.5 598.2 54.5 598.2 57.5 598.1C60.5 598.1 63.5 598.1 66.5 598.0C69.5 598.0 72.5 598.0 75.5 598.0C78.4 597.9 81.4 597.9 84.4 597.9C87.4 597.9 90.4 597.8 93.4 597.8C96.4 597.8 99.4 597.8 102.4 597.8C105.4 597.8 108.4 597.8 111.4 597.8C114.4 597.8 117.4 597.7 120.4 597.7C123.4 597.7 126.4 597.7 129.4 597.7C132.4 597.7 135.4 597.7 138.4 597.7C141.4 597.7 144.4 597.8 147.4 597.8C150.4 597.8 153.4 597.8 156.4 597.8C159.4 597.8 162.4 597.8 165.4 597.8C168.4 597.8 171.4 597.8 174.4 597.8C177.4 597.8 180.4 597.9 183.4 597.9C186.4 597.9 189.4 597.9 192.4 597.9C195.4 597.9 198.4 597.9 201.4 597.9C204.4 597.9 207.4 598.0 210.3 598.0C213.3 598.0 216.3 598.0 219.3 598.0C222.3 598.0 225.3 598.0 228.3 598.0C231.3 598.0 234.3 598.0 237.3 598.0C240.3 598.1 243.3 598.1 246.3 598.1C249.3 598.1 252.3 598.1 255.3 598.1C258.3 598.1 261.3 598.1 264.3 598.1C267.3 598.1 270.3 598.1 273.3 598.1C276.3 598.1 279.3 598.0 282.3 598.0C285.3 598.0 288.3 598.0 291.3 598.0C294.3 598.0 297.3 598.0 300.3 598.0C303.3 597.9 306.3 597.9 309.3 597.9C312.3 597.9 315.3 597.8 318.3 597.8C321.3 597.8 324.3 597.8 327.3 597.7C330.3 597.7 333.3 597.6 336.3 597.6C339.3 597.6 342.2 597.5 345.2 597.5C348.2 597.4 351.2 597.4 354.2 597.3C357.2 597.2 360.2 597.2 363.2 597.1C366.2 597.1 369.2 597.0 372.2 596.9C375.2 596.8 378.2 596.8 381.2 596.7C384.2 596.6 387.2 596.5 390.2 596.4C393.2 596.3 396.2 596.2 399.2 596.1C402.2 596.0 405.2 595.9 408.2 595.8C411.2 595.7 414.2 595.6 417.2 595.5C420.2 595.3 423.2 595.2 426.2 595.1C429.2 594.9 432.2 594.8 435.2 594.7C438.2 594.5 441.2 594.4 444.2 594.2C447.2 594.1 450.2 593.9 453.2 593.7C456.2 593.6 459.2 593.4 462.2 593.2C465.2 593.0 468.2 592.8 471.2 592.6C474.1 592.5 477.1 592.3 480.1 592.0C483.1 591.8 486.1 591.6 489.1 591.4C492.1 591.2 495.1 591.0 498.1 590.7C501.1 590.5 504.1 590.2 507.1 590.0C510.1 589.7 513.1 589.5 516.1 589.2C519.1 588.9 522.1 588.7 525.1 588.4C528.1 588.1 531.1 587.8 534.1 587.5C537.1 587.2 540.1 586.9 543.1 586.6C546.1 586.3 549.1 585.9 552.1 585.6C555.1 585.3 558.1 584.9 561.1 584.6C564.1 584.2 567.1 583.8 570.1 583.5C573.1 583.1 576.1 582.7 579.1 582.3C582.1 581.9 585.1 581.5 588.1 581.1C591.1 580.6 594.1 580.2 597.1 579.8C600.1 579.3 603.0 578.9 606.0 578.4C609.0 577.9 612.0 577.5 615.0 577.0C618.0 576.5 621.0 576.0 624.0 575.4C627.0 574.9 630.0 574.4 633.0 573.9C636.0 573.3 639.0 572.8 642.0 572.2C645.0 571.6 648.0 571.0 651.0 570.4C654.0 569.8 657.0 569.2 660.0 568.6C663.0 568.0 666.0 567.3 669.0 566.7C672.0 566.0 675.0 565.3 678.0 564.7C681.0 564.0 684.0 563.3 687.0 562.6C690.0 561.8 693.0 561.1 696.0 560.4C699.0 559.6 702.0 558.8 705.0 558.1C708.0 557.3 711.0 556.5 714.0 555.7C717.0 554.9 720.0 554.0 723.0 553.2C726.0 552.4 729.0 551.5 732.0 550.6C734.9 549.7 737.9 548.8 740.9 547.9C743.9 547.0 746.9 546.1 749.9 545.2C752.9 544.2 755.9 543.3 758.9 542.3C761.9 541.3 764.9 540.3 767.9 539.3C770.9 538.3 773.9 537.2 776.9 536.2C779.9 535.1 782.9 534.1 785.9 533.0C788.9 531.9 791.9 530.8 794.9 529.7C797.9 528.6 800.9 527.4 803.9 526.3C806.9 525.1 809.9 523.9 812.9 522.7C815.9 521.5 818.9 520.3 821.9 519.1C824.9 517.9 827.9 516.6 830.9 515.3C833.9 514.1 836.9 512.8 839.9 511.5C842.9 510.2 845.9 508.8 848.9 507.5C851.9 506.1 854.9 504.8 857.9 503.4C860.9 502.0 863.9 500.6 866.8 499.1C869.8 497.7 872.8 496.3 875.8 494.8C878.8 493.3 881.8 491.8 884.8 490.3C887.8 488.8 890.8 487.3 893.8 485.7C896.8 484.2 899.8 482.6 902.8 481.0C905.8 479.4 908.8 477.8 911.8 476.2C914.8 474.6 917.8 472.9 920.8 471.2C923.8 469.5 926.8 467.9 929.8 466.1C932.8 464.4 935.8 462.7 938.8 460.9C941.8 459.2 944.8 457.4 947.8 455.6C950.8 453.8 953.8 451.9 956.8 450.1C959.8 448.3 962.8 446.4 965.8 444.5C968.8 442.6 971.8 440.7 974.8 438.8C977.8 436.8 980.8 434.9 983.8 432.9C986.8 430.9 989.8 428.9 992.8 426.9C995.8 424.9 998.7 422.8 1001.7 420.8C1004.7 418.7 1007.7 416.6 1010.7 414.5C1013.7 412.4 1016.7 410.3 1019.7 408.1C1022.7 406.0 1025.7 403.8 1028.7 401.6C1031.7 399.4 1034.7 397.2 1037.7 394.9C1040.7 392.7 1043.7 390.4 1046.7 388.2C1049.7 385.9 1052.7 383.6 1055.7 381.3C1058.7 378.9 1061.7 376.6 1064.7 374.3C1067.7 372.0 1070.7 369.7 1073.7 367.4C1076.7 365.2 1079.7 362.9 1082.7 360.7C1085.7 358.5 1088.7 356.3 1091.7 354.2C1094.7 352.1 1097.7 350.0 1100.7 348.0C1103.7 346.0 1106.7 344.1 1109.7 342.2C1112.7 340.4 1115.7 338.6 1118.7 336.9C1121.7 335.3 1124.7 333.7 1127.6 332.2C1130.6 330.7 1133.6 329.4 1136.6 328.1C1139.6 326.9 1142.6 325.8 1145.6 324.8C1148.6 323.8 1151.6 322.9 1154.6 322.2C1157.6 321.5 1160.6 320.9 1163.6 320.5C1166.6 320.0 1169.6 319.7 1172.6 319.5C1175.6 319.3 1178.6 319.2 1181.6 319.2C1184.6 319.2 1187.6 319.3 1190.6 319.5C1193.6 319.7 1196.6 320.1 1199.6 320.5C1202.6 320.9 1205.6 321.4 1208.6 322.0C1211.6 322.6 1214.6 323.2 1217.6 324.0C1220.6 324.7 1223.6 325.6 1226.6 326.5C1229.6 327.4 1232.6 328.3 1235.6 329.4C1238.6 330.4 1241.6 331.5 1244.6 332.6C1247.6 333.8 1250.6 335.0 1253.6 336.2C1256.6 337.5 1259.5 338.7 1262.5 340.1C1265.5 341.4 1268.5 342.8 1271.5 344.2C1274.5 345.7 1277.5 347.2 1280.5 348.9C1283.5 350.6 1286.5 352.3 1289.5 354.3C1292.5 356.3 1295.5 358.3 1298.5 360.6C1301.5 363.0 1304.5 365.5 1307.5 368.2C1310.5 370.8 1313.5 373.9 1316.5 376.5C1319.5 379.1 1322.5 381.8 1325.5 383.7C1328.5 385.6 1331.5 387.1 1334.5 388.1C1337.5 389.0 1340.5 389.4 1343.5 389.3C1346.5 389.2 1349.5 388.6 1352.5 387.5C1355.5 386.5 1358.5 384.9 1361.5 383.1C1364.5 381.3 1367.5 379.0 1370.5 376.7C1373.5 374.3 1376.5 371.7 1379.5 369.2C1382.5 366.6 1385.5 363.9 1388.5 361.4C1391.4 359.0 1394.4 356.5 1397.4 354.3C1400.4 352.2 1403.4 350.2 1406.4 348.8C1409.4 347.3 1412.4 346.1 1415.4 345.5C1418.4 345.0 1421.4 344.8 1424.4 345.5C1427.4 346.1 1430.4 347.4 1433.4 349.5C1436.4 351.7 1439.4 354.5 1442.4 358.5C1445.4 362.4 1448.4 367.3 1451.4 373.2C1454.4 379.2 1457.4 386.7 1460.4 394.2C1463.4 401.8 1466.4 410.7 1469.4 418.8C1472.4 426.9 1475.4 435.2 1478.4 442.9C1481.4 450.5 1484.4 458.0 1487.4 464.7C1490.4 471.5 1493.4 477.7 1496.4 483.3C1499.4 489.0 1502.4 494.0 1505.4 498.7C1508.4 503.5 1511.4 507.7 1514.4 511.7C1517.4 515.7 1520.4 519.3 1523.3 522.8C1526.3 526.3 1529.3 529.5 1532.3 532.7C1535.3 535.9 1538.3 539.0 1541.3 542.2C1544.3 545.4 1547.3 548.6 1550.3 551.7C1553.3 554.9 1556.3 558.1 1559.3 561.2C1562.3 564.3 1565.3 567.4 1568.3 570.3C1571.3 573.2 1574.3 576.1 1577.3 578.7C1580.3 581.3 1584.8 584.8 1586.3 586.0L1586.3 623.9Z" fill="url(#hB)" opacity=".7"/>
<path d="M12.5 623.9L12.5 599.0C14.0 599.0 18.5 598.9 21.5 598.8C24.5 598.7 27.5 598.7 30.5 598.6C33.5 598.5 36.5 598.5 39.5 598.4C42.5 598.4 45.5 598.3 48.5 598.3C51.5 598.2 54.5 598.2 57.5 598.1C60.5 598.1 63.5 598.1 66.5 598.0C69.5 598.0 72.5 598.0 75.5 598.0C78.4 597.9 81.4 597.9 84.4 597.9C87.4 597.9 90.4 597.8 93.4 597.8C96.4 597.8 99.4 597.8 102.4 597.8C105.4 597.8 108.4 597.8 111.4 597.8C114.4 597.8 117.4 597.7 120.4 597.7C123.4 597.7 126.4 597.7 129.4 597.7C132.4 597.7 135.4 597.7 138.4 597.7C141.4 597.7 144.4 597.8 147.4 597.8C150.4 597.8 153.4 597.8 156.4 597.8C159.4 597.8 162.4 597.8 165.4 597.8C168.4 597.8 171.4 597.8 174.4 597.8C177.4 597.8 180.4 597.9 183.4 597.9C186.4 597.9 189.4 597.9 192.4 597.9C195.4 597.9 198.4 597.9 201.4 597.9C204.4 597.9 207.4 598.0 210.3 598.0C213.3 598.0 216.3 598.0 219.3 598.0C222.3 598.0 225.3 598.0 228.3 598.0C231.3 598.0 234.3 598.0 237.3 598.0C240.3 598.1 243.3 598.1 246.3 598.1C249.3 598.1 252.3 598.1 255.3 598.1C258.3 598.1 261.3 598.1 264.3 598.1C267.3 598.1 270.3 598.1 273.3 598.1C276.3 598.1 279.3 598.0 282.3 598.0C285.3 598.0 288.3 598.0 291.3 598.0C294.3 598.0 297.3 598.0 300.3 598.0C303.3 597.9 306.3 597.9 309.3 597.9C312.3 597.9 315.3 597.8 318.3 597.8C321.3 597.8 324.3 597.8 327.3 597.7C330.3 597.7 333.3 597.6 336.3 597.6C339.3 597.6 342.2 597.5 345.2 597.5C348.2 597.4 351.2 597.4 354.2 597.3C357.2 597.2 360.2 597.2 363.2 597.1C366.2 597.1 369.2 597.0 372.2 596.9C375.2 596.8 378.2 596.8 381.2 596.7C384.2 596.6 387.2 596.5 390.2 596.4C393.2 596.3 396.2 596.2 399.2 596.1C402.2 596.0 405.2 595.9 408.2 595.8C411.2 595.7 414.2 595.6 417.2 595.5C420.2 595.3 423.2 595.2 426.2 595.1C429.2 594.9 432.2 594.8 435.2 594.7C438.2 594.5 441.2 594.4 444.2 594.2C447.2 594.1 450.2 593.9 453.2 593.7C456.2 593.6 459.2 593.4 462.2 593.2C465.2 593.0 468.2 592.8 471.2 592.6C474.1 592.5 477.1 592.3 480.1 592.0C483.1 591.8 486.1 591.6 489.1 591.4C492.1 591.2 495.1 591.0 498.1 590.7C501.1 590.5 504.1 590.2 507.1 590.0C510.1 589.7 513.1 589.5 516.1 589.2C519.1 588.9 522.1 588.7 525.1 588.4C528.1 588.1 531.1 587.8 534.1 587.5C537.1 587.2 540.1 586.9 543.1 586.6C546.1 586.3 549.1 585.9 552.1 585.6C555.1 585.3 558.1 584.9 561.1 584.6C564.1 584.2 567.1 583.8 570.1 583.5C573.1 583.1 576.1 582.7 579.1 582.3C582.1 581.9 585.1 581.5 588.1 581.1C591.1 580.6 594.1 580.2 597.1 579.8C600.1 579.3 603.0 578.9 606.0 578.4C609.0 577.9 612.0 577.5 615.0 577.0C618.0 576.5 621.0 576.0 624.0 575.4C627.0 574.9 630.0 574.4 633.0 573.9C636.0 573.3 639.0 572.8 642.0 572.2C645.0 571.6 648.0 571.0 651.0 570.4C654.0 569.8 657.0 569.2 660.0 568.6C663.0 568.0 666.0 567.3 669.0 566.7C672.0 566.0 675.0 565.3 678.0 564.7C681.0 564.0 684.0 563.3 687.0 562.6C690.0 561.8 693.0 561.1 696.0 560.4C699.0 559.6 702.0 558.8 705.0 558.1C708.0 557.3 711.0 556.5 714.0 555.7C717.0 554.9 720.0 554.0 723.0 553.2C726.0 552.4 729.0 551.5 732.0 550.6C734.9 549.7 737.9 548.8 740.9 547.9C743.9 547.0 746.9 546.1 749.9 545.2C752.9 544.2 755.9 543.3 758.9 542.3C761.9 541.3 764.9 540.3 767.9 539.3C770.9 538.3 773.9 537.2 776.9 536.2C779.9 535.1 782.9 534.1 785.9 533.0C788.9 531.9 791.9 530.8 794.9 529.7C797.9 528.6 800.9 527.4 803.9 526.3C806.9 525.1 809.9 523.9 812.9 522.7C815.9 521.5 818.9 520.3 821.9 519.1C824.9 517.9 827.9 516.6 830.9 515.3C833.9 514.1 836.9 512.8 839.9 511.5C842.9 510.2 845.9 508.8 848.9 507.5C851.9 506.1 854.9 504.8 857.9 503.4C860.9 502.0 863.9 500.6 866.8 499.1C869.8 497.7 872.8 496.3 875.8 494.8C878.8 493.3 881.8 491.8 884.8 490.3C887.8 488.8 890.8 487.3 893.8 485.7C896.8 484.2 899.8 482.6 902.8 481.0C905.8 479.4 908.8 477.8 911.8 476.2C914.8 474.6 917.8 472.9 920.8 471.2C923.8 469.5 926.8 467.9 929.8 466.1C932.8 464.4 935.8 462.7 938.8 460.9C941.8 459.2 944.8 457.4 947.8 455.6C950.8 453.8 953.8 451.9 956.8 450.1C959.8 448.3 962.8 446.4 965.8 444.5C968.8 442.6 971.8 440.7 974.8 438.8C977.8 436.8 980.8 434.9 983.8 432.9C986.8 430.9 989.8 428.9 992.8 426.9C995.8 424.9 998.7 422.8 1001.7 420.8C1004.7 418.7 1007.7 416.6 1010.7 414.5C1013.7 412.4 1016.7 410.3 1019.7 408.1C1022.7 406.0 1025.7 403.8 1028.7 401.6C1031.7 399.4 1034.7 397.2 1037.7 394.9C1040.7 392.7 1043.7 390.4 1046.7 388.2C1049.7 385.9 1052.7 383.6 1055.7 381.3C1058.7 378.9 1061.7 376.6 1064.7 374.3C1067.7 372.0 1070.7 369.7 1073.7 367.4C1076.7 365.2 1079.7 362.9 1082.7 360.7C1085.7 358.5 1088.7 356.3 1091.7 354.2C1094.7 352.1 1097.7 350.0 1100.7 348.0C1103.7 346.0 1106.7 344.1 1109.7 342.2C1112.7 340.4 1115.7 338.6 1118.7 336.9C1121.7 335.3 1124.7 333.7 1127.6 332.2C1130.6 330.7 1133.6 329.4 1136.6 328.1C1139.6 326.9 1142.6 325.8 1145.6 324.8C1148.6 323.8 1151.6 322.9 1154.6 322.2C1157.6 321.5 1160.6 320.9 1163.6 320.5C1166.6 320.0 1169.6 319.7 1172.6 319.5C1175.6 319.3 1178.6 319.2 1181.6 319.2C1184.6 319.2 1187.6 319.3 1190.6 319.5C1193.6 319.7 1196.6 320.1 1199.6 320.5C1202.6 320.9 1205.6 321.4 1208.6 322.0C1211.6 322.6 1214.6 323.2 1217.6 324.0C1220.6 324.7 1223.6 325.6 1226.6 326.5C1229.6 327.4 1232.6 328.3 1235.6 329.4C1238.6 330.4 1241.6 331.5 1244.6 332.6C1247.6 333.8 1250.6 335.0 1253.6 336.2C1256.6 337.5 1259.5 338.7 1262.5 340.1C1265.5 341.4 1268.5 342.8 1271.5 344.2C1274.5 345.7 1277.5 347.2 1280.5 348.9C1283.5 350.6 1286.5 352.3 1289.5 354.3C1292.5 356.3 1295.5 358.3 1298.5 360.6C1301.5 363.0 1304.5 365.5 1307.5 368.2C1310.5 370.8 1313.5 373.9 1316.5 376.5C1319.5 379.1 1322.5 381.8 1325.5 383.7C1328.5 385.6 1331.5 387.1 1334.5 388.1C1337.5 389.0 1340.5 389.4 1343.5 389.3C1346.5 389.2 1349.5 388.6 1352.5 387.5C1355.5 386.5 1358.5 384.9 1361.5 383.1C1364.5 381.3 1367.5 379.0 1370.5 376.7C1373.5 374.3 1376.5 371.7 1379.5 369.2C1382.5 366.6 1385.5 363.9 1388.5 361.4C1391.4 359.0 1394.4 356.5 1397.4 354.3C1400.4 352.2 1403.4 350.2 1406.4 348.8C1409.4 347.3 1412.4 346.1 1415.4 345.5C1418.4 345.0 1421.4 344.8 1424.4 345.5C1427.4 346.1 1430.4 347.4 1433.4 349.5C1436.4 351.7 1439.4 354.5 1442.4 358.5C1445.4 362.4 1448.4 367.3 1451.4 373.2C1454.4 379.2 1457.4 386.7 1460.4 394.2C1463.4 401.8 1466.4 410.7 1469.4 418.8C1472.4 426.9 1475.4 435.2 1478.4 442.9C1481.4 450.5 1484.4 458.0 1487.4 464.7C1490.4 471.5 1493.4 477.7 1496.4 483.3C1499.4 489.0 1502.4 494.0 1505.4 498.7C1508.4 503.5 1511.4 507.7 1514.4 511.7C1517.4 515.7 1520.4 519.3 1523.3 522.8C1526.3 526.3 1529.3 529.5 1532.3 532.7C1535.3 535.9 1538.3 539.0 1541.3 542.2C1544.3 545.4 1547.3 548.6 1550.3 551.7C1553.3 554.9 1556.3 558.1 1559.3 561.2C1562.3 564.3 1565.3 567.4 1568.3 570.3C1571.3 573.2 1574.3 576.1 1577.3 578.7C1580.3 581.3 1584.8 584.8 1586.3 586.0L1586.3 623.9Z" fill="url(#hF)" opacity=".35"/>
<path d="M12.5 623.9L12.5 611.5C15.2 611.5 23.2 611.5 28.6 611.5C33.9 611.5 39.3 611.5 44.6 611.5C50.0 611.5 55.3 611.5 60.7 611.4C66.0 611.4 71.4 611.4 76.7 611.4C82.1 611.3 87.4 611.2 92.8 611.2C98.1 611.1 103.5 611.0 108.9 610.9C114.2 610.7 119.6 610.6 124.9 610.4C130.3 610.2 135.6 610.0 141.0 609.8C146.3 609.5 151.7 609.2 157.0 608.9C162.4 608.6 167.7 608.2 173.1 607.8C178.4 607.4 183.8 606.9 189.2 606.4C194.5 605.9 199.9 605.3 205.2 604.7C210.6 604.1 215.9 603.4 221.3 602.7C226.6 601.9 232.0 601.2 237.3 600.3C242.7 599.4 248.0 598.5 253.4 597.5C258.7 596.5 264.1 595.4 269.4 594.3C274.8 593.1 280.2 591.9 285.5 590.7C290.9 589.4 296.2 588.1 301.6 586.7C306.9 585.4 312.3 584.0 317.6 582.6C323.0 581.2 328.3 579.8 333.7 578.4C339.0 576.9 344.4 575.5 349.7 574.0C355.1 572.6 360.4 571.2 365.8 569.8C371.2 568.4 376.5 567.0 381.9 565.6C387.2 564.3 392.6 562.9 397.9 561.6C403.3 560.3 408.6 559.1 414.0 557.9C419.3 556.7 424.7 555.5 430.0 554.3C435.4 553.2 440.7 552.1 446.1 551.1C451.5 550.0 456.8 549.0 462.2 548.0C467.5 547.1 472.9 546.2 478.2 545.3C483.6 544.4 488.9 543.6 494.3 542.8C499.6 542.1 505.0 541.4 510.3 540.7C515.7 540.1 521.0 539.5 526.4 538.9C531.7 538.4 537.1 537.9 542.5 537.5C547.8 537.0 553.2 536.7 558.5 536.4C563.9 536.1 569.2 535.8 574.6 535.7C579.9 535.5 585.3 535.4 590.6 535.3C596.0 535.3 601.3 535.4 606.7 535.5C612.0 535.6 617.4 535.7 622.7 536.0C628.1 536.2 633.5 536.5 638.8 536.9C644.2 537.3 649.5 537.7 654.9 538.2C660.2 538.7 665.6 539.3 670.9 539.9C676.3 540.5 681.6 541.2 687.0 541.9C692.3 542.6 697.7 543.4 703.0 544.2C708.4 545.1 713.8 545.9 719.1 546.9C724.5 547.8 729.8 548.8 735.2 549.8C740.5 550.8 745.9 551.9 751.2 553.0C756.6 554.1 761.9 555.2 767.3 556.4C772.6 557.6 778.0 558.7 783.3 559.9C788.7 561.1 794.0 562.4 799.4 563.6C804.8 564.8 810.1 566.1 815.5 567.3C820.8 568.5 826.2 569.8 831.5 571.0C836.9 572.3 842.2 573.5 847.6 574.7C852.9 575.9 858.3 577.2 863.6 578.3C869.0 579.5 874.3 580.7 879.7 581.8C885.0 583.0 890.4 584.1 895.8 585.2C901.1 586.2 906.5 587.3 911.8 588.3C917.2 589.2 922.5 590.2 927.9 591.1C933.2 592.0 938.6 592.9 943.9 593.7C949.3 594.6 954.6 595.4 960.0 596.1C965.3 596.9 970.7 597.6 976.1 598.3C981.4 598.9 986.8 599.6 992.1 600.2C997.5 600.8 1002.8 601.3 1008.2 601.8C1013.5 602.3 1018.9 602.8 1024.2 603.3C1029.6 603.7 1034.9 604.1 1040.3 604.5C1045.6 604.8 1051.0 605.2 1056.3 605.5C1061.7 605.8 1067.1 606.1 1072.4 606.3C1077.8 606.6 1083.1 606.8 1088.5 607.0C1093.8 607.2 1099.2 607.4 1104.5 607.5C1109.9 607.7 1115.2 607.8 1120.6 608.0C1125.9 608.1 1131.3 608.2 1136.6 608.3C1142.0 608.4 1147.3 608.5 1152.7 608.6C1158.1 608.7 1163.4 608.7 1168.8 608.8C1174.1 608.9 1179.5 608.9 1184.8 609.0C1190.2 609.0 1195.5 609.1 1200.9 609.1C1206.2 609.1 1211.6 609.2 1216.9 609.2C1222.3 609.2 1227.6 609.2 1233.0 609.3C1238.4 609.3 1243.7 609.3 1249.1 609.3C1254.4 609.3 1259.8 609.4 1265.1 609.4C1270.5 609.4 1275.8 609.4 1281.2 609.5C1286.5 609.5 1291.9 609.5 1297.2 609.6C1302.6 609.6 1307.9 609.7 1313.3 609.7C1318.6 609.8 1324.0 609.8 1329.4 609.9C1334.7 610.0 1340.1 610.0 1345.4 610.1C1350.8 610.2 1356.1 610.3 1361.5 610.4C1366.8 610.5 1372.2 610.6 1377.5 610.7C1382.9 610.8 1388.2 610.9 1393.6 611.1C1398.9 611.2 1404.3 611.3 1409.6 611.5C1415.0 611.6 1420.4 611.8 1425.7 612.0C1431.1 612.1 1436.4 612.3 1441.8 612.5C1447.1 612.7 1452.5 612.9 1457.8 613.1C1463.2 613.3 1468.5 613.5 1473.9 613.8C1479.2 614.0 1484.6 614.3 1489.9 614.5C1495.3 614.8 1500.7 615.0 1506.0 615.3C1511.4 615.6 1516.7 615.9 1522.1 616.2C1527.4 616.5 1532.8 616.8 1538.1 617.2C1543.5 617.5 1548.8 617.8 1554.2 618.2C1559.5 618.5 1564.9 618.9 1570.2 619.3C1575.6 619.7 1583.6 620.3 1586.3 620.5L1586.3 623.9Z" fill="url(#hF)" opacity=".35"/>
<path d="M12.5 623.9L12.5 611.5C15.2 611.5 23.2 611.5 28.6 611.5C33.9 611.5 39.3 611.5 44.6 611.5C50.0 611.5 55.3 611.5 60.7 611.4C66.0 611.4 71.4 611.4 76.7 611.4C82.1 611.3 87.4 611.2 92.8 611.2C98.1 611.1 103.5 611.0 108.9 610.9C114.2 610.7 119.6 610.6 124.9 610.4C130.3 610.2 135.6 610.0 141.0 609.8C146.3 609.5 151.7 609.2 157.0 608.9C162.4 608.6 167.7 608.2 173.1 607.8C178.4 607.4 183.8 606.9 189.2 606.4C194.5 605.9 199.9 605.3 205.2 604.7C210.6 604.1 215.9 603.4 221.3 602.7C226.6 601.9 232.0 601.2 237.3 600.3C242.7 599.4 248.0 598.5 253.4 597.5C258.7 596.5 264.1 595.4 269.4 594.3C274.8 593.1 280.2 591.9 285.5 590.7C290.9 589.4 296.2 588.1 301.6 586.7C306.9 585.4 312.3 584.0 317.6 582.6C323.0 581.2 328.3 579.8 333.7 578.4C339.0 576.9 344.4 575.5 349.7 574.0C355.1 572.6 360.4 571.2 365.8 569.8C371.2 568.4 376.5 567.0 381.9 565.6C387.2 564.3 392.6 562.9 397.9 561.6C403.3 560.3 408.6 559.1 414.0 557.9C419.3 556.7 424.7 555.5 430.0 554.3C435.4 553.2 440.7 552.1 446.1 551.1C451.5 550.0 456.8 549.0 462.2 548.0C467.5 547.1 472.9 546.2 478.2 545.3C483.6 544.4 488.9 543.6 494.3 542.8C499.6 542.1 505.0 541.4 510.3 540.7C515.7 540.1 521.0 539.5 526.4 538.9C531.7 538.4 537.1 537.9 542.5 537.5C547.8 537.0 553.2 536.7 558.5 536.4C563.9 536.1 569.2 535.8 574.6 535.7C579.9 535.5 585.3 535.4 590.6 535.3C596.0 535.3 601.3 535.4 606.7 535.5C612.0 535.6 617.4 535.7 622.7 536.0C628.1 536.2 633.5 536.5 638.8 536.9C644.2 537.3 649.5 537.7 654.9 538.2C660.2 538.7 665.6 539.3 670.9 539.9C676.3 540.5 681.6 541.2 687.0 541.9C692.3 542.6 697.7 543.4 703.0 544.2C708.4 545.1 713.8 545.9 719.1 546.9C724.5 547.8 729.8 548.8 735.2 549.8C740.5 550.8 745.9 551.9 751.2 553.0C756.6 554.1 761.9 555.2 767.3 556.4C772.6 557.6 778.0 558.7 783.3 559.9C788.7 561.1 794.0 562.4 799.4 563.6C804.8 564.8 810.1 566.1 815.5 567.3C820.8 568.5 826.2 569.8 831.5 571.0C836.9 572.3 842.2 573.5 847.6 574.7C852.9 575.9 858.3 577.2 863.6 578.3C869.0 579.5 874.3 580.7 879.7 581.8C885.0 583.0 890.4 584.1 895.8 585.2C901.1 586.2 906.5 587.3 911.8 588.3C917.2 589.2 922.5 590.2 927.9 591.1C933.2 592.0 938.6 592.9 943.9 593.7C949.3 594.6 954.6 595.4 960.0 596.1C965.3 596.9 970.7 597.6 976.1 598.3C981.4 598.9 986.8 599.6 992.1 600.2C997.5 600.8 1002.8 601.3 1008.2 601.8C1013.5 602.3 1018.9 602.8 1024.2 603.3C1029.6 603.7 1034.9 604.1 1040.3 604.5C1045.6 604.8 1051.0 605.2 1056.3 605.5C1061.7 605.8 1067.1 606.1 1072.4 606.3C1077.8 606.6 1083.1 606.8 1088.5 607.0C1093.8 607.2 1099.2 607.4 1104.5 607.5C1109.9 607.7 1115.2 607.8 1120.6 608.0C1125.9 608.1 1131.3 608.2 1136.6 608.3C1142.0 608.4 1147.3 608.5 1152.7 608.6C1158.1 608.7 1163.4 608.7 1168.8 608.8C1174.1 608.9 1179.5 608.9 1184.8 609.0C1190.2 609.0 1195.5 609.1 1200.9 609.1C1206.2 609.1 1211.6 609.2 1216.9 609.2C1222.3 609.2 1227.6 609.2 1233.0 609.3C1238.4 609.3 1243.7 609.3 1249.1 609.3C1254.4 609.3 1259.8 609.4 1265.1 609.4C1270.5 609.4 1275.8 609.4 1281.2 609.5C1286.5 609.5 1291.9 609.5 1297.2 609.6C1302.6 609.6 1307.9 609.7 1313.3 609.7C1318.6 609.8 1324.0 609.8 1329.4 609.9C1334.7 610.0 1340.1 610.0 1345.4 610.1C1350.8 610.2 1356.1 610.3 1361.5 610.4C1366.8 610.5 1372.2 610.6 1377.5 610.7C1382.9 610.8 1388.2 610.9 1393.6 611.1C1398.9 611.2 1404.3 611.3 1409.6 611.5C1415.0 611.6 1420.4 611.8 1425.7 612.0C1431.1 612.1 1436.4 612.3 1441.8 612.5C1447.1 612.7 1452.5 612.9 1457.8 613.1C1463.2 613.3 1468.5 613.5 1473.9 613.8C1479.2 614.0 1484.6 614.3 1489.9 614.5C1495.3 614.8 1500.7 615.0 1506.0 615.3C1511.4 615.6 1516.7 615.9 1522.1 616.2C1527.4 616.5 1532.8 616.8 1538.1 617.2C1543.5 617.5 1548.8 617.8 1554.2 618.2C1559.5 618.5 1564.9 618.9 1570.2 619.3C1575.6 619.7 1583.6 620.3 1586.3 620.5L1586.3 623.9Z" fill="url(#pA)" opacity=".55"/>
<path d="M1145.5 623.9L1145.5 623.5C1148.4 618.5 1157.3 603.7 1163.0 593.8C1168.6 583.9 1174.1 574.0 1179.5 564.1C1184.8 554.2 1190.0 544.3 1195.0 534.4C1200.0 524.5 1204.9 514.6 1209.6 504.7C1214.3 494.8 1218.9 484.9 1223.3 475.0C1227.7 465.1 1232.0 455.2 1236.1 445.3C1240.3 435.4 1244.3 425.5 1248.1 415.6C1252.0 405.7 1255.7 395.8 1259.4 385.9C1263.0 376.0 1266.5 366.1 1269.8 356.2C1273.2 346.3 1276.5 336.4 1279.6 326.5C1282.8 316.6 1285.8 306.7 1288.7 296.8C1291.7 286.9 1294.5 277.0 1297.2 267.1C1299.9 257.2 1303.2 244.4 1305.1 237.4C1307.0 230.4 1307.3 228.8 1308.4 224.8C1309.5 220.8 1310.4 216.6 1311.6 213.6C1312.8 210.6 1314.2 208.4 1315.6 206.8C1317.0 205.2 1318.7 204.3 1320.2 204.3C1321.7 204.3 1323.3 205.1 1324.6 206.6C1325.9 208.1 1327.0 210.4 1328.2 213.4C1329.4 216.4 1330.4 220.6 1331.5 224.6C1332.6 228.6 1333.7 230.3 1334.9 237.4C1336.2 244.5 1337.7 257.2 1339.0 267.1C1340.4 277.0 1341.8 286.9 1343.2 296.8C1344.6 306.7 1346.0 316.6 1347.4 326.5C1348.9 336.4 1350.3 346.3 1351.8 356.2C1353.3 366.1 1354.8 376.0 1356.3 385.9C1357.8 395.8 1359.4 405.7 1361.0 415.6C1362.6 425.5 1364.3 435.4 1366.0 445.3C1367.7 455.2 1369.4 465.1 1371.2 475.0C1373.0 484.9 1374.8 494.8 1376.8 504.7C1378.7 514.6 1380.6 524.5 1382.7 534.4C1384.7 544.3 1386.8 554.2 1389.0 564.1C1391.2 574.0 1393.5 583.9 1395.8 593.8C1398.2 603.7 1401.9 618.5 1403.1 623.5L1403.1 623.9Z" fill="url(#pB)" opacity=".9"/>
<path d="M12.5 623.9L12.5 555.3C19.2 555.4 39.4 555.7 52.9 556.1C66.3 556.5 79.8 556.9 93.2 557.5C106.7 558.0 120.1 558.6 133.6 559.3C147.0 560.0 160.5 560.7 173.9 561.6C187.4 562.4 200.8 563.3 214.3 564.2C227.7 565.1 241.2 566.1 254.6 567.1C268.1 568.1 281.5 569.2 295.0 570.3C308.4 571.3 321.9 572.5 335.3 573.6C348.8 574.7 362.2 575.9 375.7 577.0C389.1 578.2 402.6 579.3 416.0 580.5C429.5 581.7 442.9 582.8 456.4 584.0C469.8 585.1 483.3 586.3 496.7 587.4C510.2 588.5 523.6 589.6 537.1 590.6C550.6 591.6 564.0 592.7 577.5 593.6C590.9 594.6 604.4 595.5 617.8 596.4C631.3 597.3 644.7 598.2 658.2 599.0C671.6 599.8 685.1 600.6 698.5 601.3C712.0 602.1 725.4 602.8 738.9 603.5C752.3 604.1 765.8 604.8 779.2 605.4C792.7 606.0 806.1 606.5 819.6 607.1C833.0 607.6 846.5 608.1 859.9 608.5C873.4 609.0 886.8 609.4 900.3 609.8C913.7 610.2 927.2 610.6 940.6 610.9C954.1 611.3 967.5 611.6 981.0 611.8C994.4 612.1 1007.9 612.4 1021.3 612.6C1034.8 612.8 1048.2 613.0 1061.7 613.2C1075.2 613.4 1088.6 613.6 1102.1 613.7C1115.5 613.9 1129.0 614.0 1142.4 614.1C1155.9 614.2 1169.3 614.3 1182.8 614.4C1196.2 614.5 1209.7 614.6 1223.1 614.7C1236.6 614.8 1250.0 614.8 1263.5 614.9C1276.9 615.0 1290.4 615.0 1303.8 615.1C1317.3 615.2 1330.7 615.3 1344.2 615.4C1357.6 615.5 1371.1 615.6 1384.5 615.7C1398.0 615.8 1411.4 616.0 1424.9 616.2C1438.3 616.4 1451.8 616.6 1465.2 616.9C1478.7 617.2 1492.1 617.5 1505.6 617.9C1519.0 618.4 1532.5 618.8 1545.9 619.4C1559.4 619.9 1579.6 621.0 1586.3 621.3L1586.3 623.9Z" fill="url(#hB)" opacity=".6" clip-path="url(#cWD)"/>
<path d="M12.5 623.9L12.5 555.3C19.2 555.4 39.4 555.7 52.9 556.1C66.3 556.5 79.8 556.9 93.2 557.5C106.7 558.0 120.1 558.6 133.6 559.3C147.0 560.0 160.5 560.7 173.9 561.6C187.4 562.4 200.8 563.3 214.3 564.2C227.7 565.1 241.2 566.1 254.6 567.1C268.1 568.1 281.5 569.2 295.0 570.3C308.4 571.3 321.9 572.5 335.3 573.6C348.8 574.7 362.2 575.9 375.7 577.0C389.1 578.2 402.6 579.3 416.0 580.5C429.5 581.7 442.9 582.8 456.4 584.0C469.8 585.1 483.3 586.3 496.7 587.4C510.2 588.5 523.6 589.6 537.1 590.6C550.6 591.6 564.0 592.7 577.5 593.6C590.9 594.6 604.4 595.5 617.8 596.4C631.3 597.3 644.7 598.2 658.2 599.0C671.6 599.8 685.1 600.6 698.5 601.3C712.0 602.1 725.4 602.8 738.9 603.5C752.3 604.1 765.8 604.8 779.2 605.4C792.7 606.0 806.1 606.5 819.6 607.1C833.0 607.6 846.5 608.1 859.9 608.5C873.4 609.0 886.8 609.4 900.3 609.8C913.7 610.2 927.2 610.6 940.6 610.9C954.1 611.3 967.5 611.6 981.0 611.8C994.4 612.1 1007.9 612.4 1021.3 612.6C1034.8 612.8 1048.2 613.0 1061.7 613.2C1075.2 613.4 1088.6 613.6 1102.1 613.7C1115.5 613.9 1129.0 614.0 1142.4 614.1C1155.9 614.2 1169.3 614.3 1182.8 614.4C1196.2 614.5 1209.7 614.6 1223.1 614.7C1236.6 614.8 1250.0 614.8 1263.5 614.9C1276.9 615.0 1290.4 615.0 1303.8 615.1C1317.3 615.2 1330.7 615.3 1344.2 615.4C1357.6 615.5 1371.1 615.6 1384.5 615.7C1398.0 615.8 1411.4 616.0 1424.9 616.2C1438.3 616.4 1451.8 616.6 1465.2 616.9C1478.7 617.2 1492.1 617.5 1505.6 617.9C1519.0 618.4 1532.5 618.8 1545.9 619.4C1559.4 619.9 1579.6 621.0 1586.3 621.3L1586.3 623.9Z" fill="url(#hO)" opacity=".55" clip-path="url(#cGW)"/>
<path d="M12.5 623.9L12.5 555.3C19.2 555.4 39.4 555.7 52.9 556.1C66.3 556.5 79.8 556.9 93.2 557.5C106.7 558.0 120.1 558.6 133.6 559.3C147.0 560.0 160.5 560.7 173.9 561.6C187.4 562.4 200.8 563.3 214.3 564.2C227.7 565.1 241.2 566.1 254.6 567.1C268.1 568.1 281.5 569.2 295.0 570.3C308.4 571.3 321.9 572.5 335.3 573.6C348.8 574.7 362.2 575.9 375.7 577.0C389.1 578.2 402.6 579.3 416.0 580.5C429.5 581.7 442.9 582.8 456.4 584.0C469.8 585.1 483.3 586.3 496.7 587.4C510.2 588.5 523.6 589.6 537.1 590.6C550.6 591.6 564.0 592.7 577.5 593.6C590.9 594.6 604.4 595.5 617.8 596.4C631.3 597.3 644.7 598.2 658.2 599.0C671.6 599.8 685.1 600.6 698.5 601.3C712.0 602.1 725.4 602.8 738.9 603.5C752.3 604.1 765.8 604.8 779.2 605.4C792.7 606.0 806.1 606.5 819.6 607.1C833.0 607.6 846.5 608.1 859.9 608.5C873.4 609.0 886.8 609.4 900.3 609.8C913.7 610.2 927.2 610.6 940.6 610.9C954.1 611.3 967.5 611.6 981.0 611.8C994.4 612.1 1007.9 612.4 1021.3 612.6C1034.8 612.8 1048.2 613.0 1061.7 613.2C1075.2 613.4 1088.6 613.6 1102.1 613.7C1115.5 613.9 1129.0 614.0 1142.4 614.1C1155.9 614.2 1169.3 614.3 1182.8 614.4C1196.2 614.5 1209.7 614.6 1223.1 614.7C1236.6 614.8 1250.0 614.8 1263.5 614.9C1276.9 615.0 1290.4 615.0 1303.8 615.1C1317.3 615.2 1330.7 615.3 1344.2 615.4C1357.6 615.5 1371.1 615.6 1384.5 615.7C1398.0 615.8 1411.4 616.0 1424.9 616.2C1438.3 616.4 1451.8 616.6 1465.2 616.9C1478.7 617.2 1492.1 617.5 1505.6 617.9C1519.0 618.4 1532.5 618.8 1545.9 619.4C1559.4 619.9 1579.6 621.0 1586.3 621.3L1586.3 623.9Z" fill="url(#hO2)" opacity=".55" clip-path="url(#cGW)"/>
</g>
<g stroke="#858585" stroke-width=".85" stroke-dasharray="1.6 1.8" fill="none">
<path d="M151.5 70.6V623.9"/><path d="M293.0 70.6V623.9"/><path d="M433.2 70.6V623.9"/><path d="M571.4 70.6V623.9"/><path d="M714.2 70.6V623.9"/><path d="M850.5 70.6V623.9"/><path d="M1000.5 70.6V623.9"/><path d="M1129.0 70.6V623.9"/><path d="M1224.8 70.6V623.9"/><path d="M1399.2 70.6V623.9"/><path d="M1496.5 70.6V623.9"/>
</g>
<g transform="translate(65.2 109.9)"><circle r="18.4" fill="#fff" stroke="#1a1a1a" stroke-width="2" stroke-linejoin="round"/><path d="M-15.00 -4.75L-13.00 -4.75C-10.63 -4.75 -8.87 -7.25 -6.50 -7.25C-4.13 -7.25 -2.37 -4.75 0.00 -4.75C2.37 -4.75 4.13 -7.25 6.50 -7.25C8.87 -7.25 10.63 -4.75 13.00 -4.75L15.00 -4.75" fill="none" stroke="#1a1a1a" stroke-width="3.5" clip-path="url(#cW)"/><path d="M-15.00 0.45L-13.00 0.45C-10.63 0.45 -8.87 -2.05 -6.50 -2.05C-4.13 -2.05 -2.37 0.45 0.00 0.45C2.37 0.45 4.13 -2.05 6.50 -2.05C8.87 -2.05 10.63 0.45 13.00 0.45L15.00 0.45" fill="none" stroke="#1a1a1a" stroke-width="3.5" clip-path="url(#cW)"/><path d="M-15.00 6.15L-13.00 6.15C-10.63 6.15 -8.87 3.65 -6.50 3.65C-4.13 3.65 -2.37 6.15 0.00 6.15C2.37 6.15 4.13 3.65 6.50 3.65C8.87 3.65 10.63 6.15 13.00 6.15L15.00 6.15" fill="none" stroke="#1a1a1a" stroke-width="3.5" clip-path="url(#cW)"/></g>
<g transform="translate(218.4 109.9)"><circle r="18.4" fill="#fff" stroke="#1a1a1a" stroke-width="2" stroke-linejoin="round"/><g fill="#1a1a1a" stroke="none"><rect x="-10.6" y="-10.9" width="19.4" height="1.4"/><rect x="-6.4" y="-12.6" width="9.6" height="4.1" rx=".8"/><rect x="-9.4" y="-10.5" width="1.7" height="13.2"/><rect x="4.5" y="-10.5" width="1.7" height="13.2"/><path d="M8.1 -10.9h1.3v3.9h2v1.3h-3.3z"/><rect x="-2.2" y="-8.6" width="1.3" height="3"/><path d="M-5.2 -6.4h7.3l-.7 6.9h-5.9z"/><rect x="-10.9" y="2.2" width="5.6" height="2.3" rx=".6"/><rect x="-3.5" y="2.2" width="11.6" height="2.3" rx=".6"/><rect x="-10.9" y="6.1" width="11.3" height="2.3" rx=".6"/><rect x="2.3" y="6.1" width="5.8" height="2.3" rx=".6"/><rect x="-10.9" y="10.1" width="5.6" height="2.3" rx=".6"/><rect x="-3.5" y="10.1" width="11.6" height="2.3" rx=".6"/></g></g>
<g transform="translate(65.2 156.2)"><circle r="18.4" fill="#fff" stroke="#1a1a1a" stroke-width="2" stroke-linejoin="round"/><path d="M-10.1 9.1v-5.4h5.1v-4.9h4.8v-4.7h4.8v-5.2h5.6v20.2z" fill="#1a1a1a"/></g>
<g transform="translate(65.2 202.5)"><circle r="18.4" fill="#fff" stroke="#1a1a1a" stroke-width="2" stroke-linejoin="round"/><g fill="#1a1a1a"><rect x="-11.2" y="3.1" width="12.9" height="7"/><path d="M-11.2 1.5v-1.4l6.5-2.3 6.4 2.3v1.4z"/><path d="M-11.2 -4.6h6.3q.9 0 .9 .9v1.8h-1.2v-1.5h-6z"/><path d="M-2.1 -5.9q0-4.2 4-4.2t4 4.2z"/><path d="M-2.1 -4.3h8v14.4l-1.4 1.1h-1.1v-12.5l-5.5-1.9z"/></g><path d="M1.9 -10.2v-1.2q0-.9 .9-.9h4.4q.9 0 .9 .9v20.3q0 .9 .9 .9h2.7" fill="none" stroke="#1a1a1a" stroke-width="1.3"/></g>
<g transform="translate(487.6 109.9)"><circle r="18.4" fill="#fff" stroke="#1a1a1a" stroke-width="2" stroke-linejoin="round"/><g fill="#1a1a1a"><rect x="-13.9" y="-8.3" width="8.4" height="2.1" rx=".7"/><rect x="-13.9" y="-3.0" width="8.4" height="2.1" rx=".7"/><rect x="-13.9" y="2.0" width="8.4" height="2.1" rx=".7"/><rect x="-13.9" y="7.3" width="8.4" height="2.1" rx=".7"/><path d="M-4.1 -9h4l4.5 18.1h-8.5z"/></g><path d="M4.4 3l1.300 1.400 1.300-1.400 1.300 1.400 1.300-1.400 1.300 1.400 1.300-1.400M5.700 6.200l1.300 1.400 1.300-1.400 1.300 1.400 1.300-1.400 1.300 1.400 1.300-1.400" fill="none" stroke="#1a1a1a" stroke-width=".95"/></g>
<g transform="translate(697.4 109.9)"><circle r="18.4" fill="#fff" stroke="#1a1a1a" stroke-width="2" stroke-linejoin="round"/><g fill="#1a1a1a" stroke="none"><rect x="-10.6" y="-10.9" width="19.4" height="1.4"/><rect x="-6.4" y="-12.6" width="9.6" height="4.1" rx=".8"/><rect x="-9.4" y="-10.5" width="1.7" height="13.2"/><rect x="4.5" y="-10.5" width="1.7" height="13.2"/><path d="M8.1 -10.9h1.3v3.9h2v1.3h-3.3z"/><rect x="-2.2" y="-8.6" width="1.3" height="3"/><path d="M-5.2 -6.4h7.3l-.7 6.9h-5.9z"/><rect x="-10.9" y="2.2" width="5.6" height="2.3" rx=".6"/><rect x="-3.5" y="2.2" width="11.6" height="2.3" rx=".6"/><rect x="-10.9" y="6.1" width="11.3" height="2.3" rx=".6"/><rect x="2.3" y="6.1" width="5.8" height="2.3" rx=".6"/><rect x="-10.9" y="10.1" width="5.6" height="2.3" rx=".6"/><rect x="-3.5" y="10.1" width="11.6" height="2.3" rx=".6"/></g></g>
<g transform="translate(697.4 156.0)"><circle r="18.4" fill="#fff" stroke="#1a1a1a" stroke-width="2" stroke-linejoin="round"/><g fill="#1a1a1a"><circle cx="-1.4" cy="-11.8" r="1.4"/><rect x="-2.6" y="-9.6" width="2.5" height="1.6"/><path d="M-4.4 -6.4h6l-.9-1.3h-4.2z"/><rect x="-2.7" y="-5" width="2.7" height="4.4"/><path d="M-4.2 .2h5.6v1h-5.6z"/><rect x="-2.7" y="2" width="2.7" height="6.9"/><path d="M-9.8 3.1q1.400 1.900 1.400 3.100a1.400 1.400 0 0 1-2.800 0q0-1.200 1.400-3.100z"/><circle cx="6.4" cy="-3" r="1.1"/></g><path d="M-5.600 13.700l2-3.600h4.400l2 3.600z" fill="#8a8a8a"/><path d="M-1 -11.800h2.200q4 0 4 4v7.800q0 4 4.200 4h1.300" fill="none" stroke="#1a1a1a" stroke-width="1.500"/><path d="M1.800 -3h4.800" fill="none" stroke="#1a1a1a" stroke-width="1.500"/><path d="M-3.400 -3.200h-3q-3.400 0-3.800 2.400" fill="none" stroke="#1a1a1a" stroke-width="1.600"/></g>
<g transform="translate(697.4 203.1)"><circle r="18.4" fill="#fff" stroke="#1a1a1a" stroke-width="2" stroke-linejoin="round"/><path d="M-5.300 -5.500v-5.800l5.100-2.800 5.400 2.800v5.800z" fill="#1a1a1a"/><path d="M-5.300 -3.600h10.500M-4.900 -3.600l-5.700 17M5 -3.600l5.400 17M-5.100 -1.600l13.300 10.200M5.100 -1.600l-13.600 10.200" fill="none" stroke="#1a1a1a" stroke-width="1.600"/></g>
<g transform="translate(697.4 250.1)"><circle r="18.4" fill="#fff" stroke="#1a1a1a" stroke-width="2" stroke-linejoin="round"/><path d="M-15.00 -4.75L-13.00 -4.75C-10.63 -4.75 -8.87 -7.25 -6.50 -7.25C-4.13 -7.25 -2.37 -4.75 0.00 -4.75C2.37 -4.75 4.13 -7.25 6.50 -7.25C8.87 -7.25 10.63 -4.75 13.00 -4.75L15.00 -4.75" fill="none" stroke="#1a1a1a" stroke-width="3.5" clip-path="url(#cW)"/><path d="M-15.00 0.45L-13.00 0.45C-10.63 0.45 -8.87 -2.05 -6.50 -2.05C-4.13 -2.05 -2.37 0.45 0.00 0.45C2.37 0.45 4.13 -2.05 6.50 -2.05C8.87 -2.05 10.63 0.45 13.00 0.45L15.00 0.45" fill="none" stroke="#1a1a1a" stroke-width="3.5" clip-path="url(#cW)"/><path d="M-15.00 6.15L-13.00 6.15C-10.63 6.15 -8.87 3.65 -6.50 3.65C-4.13 3.65 -2.37 6.15 0.00 6.15C2.37 6.15 4.13 3.65 6.50 3.65C8.87 3.65 10.63 6.15 13.00 6.15L15.00 6.15" fill="none" stroke="#1a1a1a" stroke-width="3.5" clip-path="url(#cW)"/></g>
<g transform="translate(984.9 110.0)"><circle r="18.4" fill="#fff" stroke="#1a1a1a" stroke-width="2" stroke-linejoin="round"/><g fill="#1a1a1a"><rect x="-9.700" y="-12.300" width="19" height="1.900" rx=".6"/><rect x="-6.700" y="-9.400" width="1.900" height="3.700"/><path d="M-9.200 -2.400q4.900-4.400 9.800 0z"/><path d="M-8.300 1.400q4 3.500 8 0z"/><rect x="2" y="-9.600" width="6.500" height="1.200"/><path d="M-11.600 10.900l1.100-3.200h1.500v3.200zM-8 7.700h3.200v3.200h-3.200zM-3.800 8.100h2.600v2.800h-2.600zM1.600 6.800h1.700v4.100h-1.700zM4.400 8h6.200l.6 2.900h-6.800z"/></g><ellipse cx="-4.300" cy="-.800" rx="5.400" ry="1.700" fill="#8c8c8c"/><path d="M-10 7l1.500-2.600 1.500 2.600 1.500-2.600 1.500 2.600 1.500-2.600 1.500 2.600" fill="none" stroke="#8c8c8c" stroke-width=".8"/><path d="M2.200 -8.400l5.800 4.300-6.400 4.500 7 4.300-7 3.200M8.200 -8.400l-5.800 4.300 6.400 4.500-7 4.300 7 3.200M2.200 -8.400l-.9 15.700M8.200 -8.400l.9 15.700" fill="none" stroke="#1a1a1a" stroke-width="1.100"/></g>
<g transform="translate(1198.4 109.9)"><circle r="18.4" fill="#fff" stroke="#1a1a1a" stroke-width="2" stroke-linejoin="round"/><path d="M-15.00 -4.75L-13.00 -4.75C-10.63 -4.75 -8.87 -7.25 -6.50 -7.25C-4.13 -7.25 -2.37 -4.75 0.00 -4.75C2.37 -4.75 4.13 -7.25 6.50 -7.25C8.87 -7.25 10.63 -4.75 13.00 -4.75L15.00 -4.75" fill="none" stroke="#1a1a1a" stroke-width="3.5" clip-path="url(#cW)"/><path d="M-15.00 0.45L-13.00 0.45C-10.63 0.45 -8.87 -2.05 -6.50 -2.05C-4.13 -2.05 -2.37 0.45 0.00 0.45C2.37 0.45 4.13 -2.05 6.50 -2.05C8.87 -2.05 10.63 0.45 13.00 0.45L15.00 0.45" fill="none" stroke="#1a1a1a" stroke-width="3.5" clip-path="url(#cW)"/><path d="M-15.00 6.15L-13.00 6.15C-10.63 6.15 -8.87 3.65 -6.50 3.65C-4.13 3.65 -2.37 6.15 0.00 6.15C2.37 6.15 4.13 3.65 6.50 3.65C8.87 3.65 10.63 6.15 13.00 6.15L15.00 6.15" fill="none" stroke="#1a1a1a" stroke-width="3.5" clip-path="url(#cW)"/></g>
<g transform="translate(1395.2 109.9)"><circle r="18.4" fill="none" stroke="#a9a9a9" stroke-width="2" stroke-linejoin="round"/><path d="M-15.00 -4.75L-13.00 -4.75C-10.63 -4.75 -8.87 -7.25 -6.50 -7.25C-4.13 -7.25 -2.37 -4.75 0.00 -4.75C2.37 -4.75 4.13 -7.25 6.50 -7.25C8.87 -7.25 10.63 -4.75 13.00 -4.75L15.00 -4.75" fill="none" stroke="#a9a9a9" stroke-width="3.5" clip-path="url(#cW)"/><path d="M-15.00 0.45L-13.00 0.45C-10.63 0.45 -8.87 -2.05 -6.50 -2.05C-4.13 -2.05 -2.37 0.45 0.00 0.45C2.37 0.45 4.13 -2.05 6.50 -2.05C8.87 -2.05 10.63 0.45 13.00 0.45L15.00 0.45" fill="none" stroke="#a9a9a9" stroke-width="3.5" clip-path="url(#cW)"/><path d="M-15.00 6.15L-13.00 6.15C-10.63 6.15 -8.87 3.65 -6.50 3.65C-4.13 3.65 -2.37 6.15 0.00 6.15C2.37 6.15 4.13 3.65 6.50 3.65C8.87 3.65 10.63 6.15 13.00 6.15L15.00 6.15" fill="none" stroke="#a9a9a9" stroke-width="3.5" clip-path="url(#cW)"/></g>
<g stroke="#858585" stroke-width=".85" stroke-dasharray="1.6 1.8" fill="none">
<path d="M12.6 170.4H1586.0"/><path d="M12.6 274.9H1586.0"/><path d="M12.6 379.1H1586.0"/><path d="M12.6 500.6H1586.0"/>
</g>
<g fill="none" stroke-linecap="butt">
<path d="M12.5 585.0C19.2 584.6 39.4 583.4 52.9 582.4C66.3 581.4 79.8 580.3 93.2 579.1C106.7 577.8 120.1 576.5 133.6 575.0C147.0 573.5 160.5 571.8 173.9 570.1C187.4 568.3 200.8 566.5 214.3 564.5C227.7 562.5 241.2 560.3 254.6 558.1C268.1 555.8 281.5 553.5 295.0 551.0C308.4 548.5 321.9 545.9 335.3 543.1C348.8 540.4 362.2 537.6 375.7 534.6C389.1 531.7 402.6 528.6 416.0 525.4C429.5 522.2 442.9 518.9 456.4 515.5C469.8 512.0 483.3 508.5 496.7 504.9C510.2 501.2 523.6 497.5 537.1 493.6C550.6 489.7 564.0 485.8 577.5 481.7C590.9 477.6 604.4 473.4 617.8 469.1C631.3 464.8 644.7 460.4 658.2 455.9C671.6 451.3 685.1 446.7 698.5 441.9C712.0 437.2 725.4 432.3 738.9 427.3C752.3 422.3 765.8 417.2 779.2 412.0C792.7 406.8 806.1 401.4 819.6 395.9C833.0 390.5 846.5 384.9 859.9 379.1C873.4 373.4 886.8 367.6 900.3 361.7C913.7 355.8 927.2 349.8 940.6 343.7C954.1 337.7 967.5 331.6 981.0 325.5C994.4 319.4 1007.9 313.3 1021.3 307.2C1034.8 301.2 1048.2 295.2 1061.7 289.1C1075.2 283.0 1088.6 277.0 1102.1 270.7C1115.5 264.5 1129.0 258.1 1142.4 251.5C1155.9 244.9 1169.3 238.1 1182.8 231.3C1196.2 224.6 1209.7 217.6 1223.1 211.0C1236.6 204.3 1250.0 197.6 1263.5 191.3C1276.9 185.1 1290.4 178.9 1303.8 173.3C1317.3 167.7 1330.7 162.4 1344.2 157.6C1357.6 152.9 1371.1 148.5 1384.5 144.7C1398.0 141.0 1411.4 137.7 1424.9 135.0C1438.3 132.3 1451.8 130.2 1465.2 128.4C1478.7 126.7 1492.1 125.4 1505.6 124.5C1519.0 123.5 1532.5 123.0 1545.9 122.6C1559.4 122.3 1579.6 122.5 1586.3 122.5" stroke="#c58c9f" stroke-width="1.9" clip-path="url(#cFrame)"/>
<path d="M632.0 623.5C633.7 623.4 638.7 623.2 642.1 623.0C645.5 622.8 648.8 622.7 652.2 622.5C655.6 622.4 658.9 622.2 662.3 622.1C665.7 621.9 669.0 621.7 672.4 621.6C675.7 621.4 679.1 621.2 682.5 621.0C685.8 620.8 689.2 620.6 692.6 620.4C695.9 620.1 699.3 619.9 702.7 619.6C706.0 619.3 709.4 619.0 712.8 618.7C716.1 618.4 719.5 618.0 722.9 617.6C726.2 617.2 729.6 616.8 733.0 616.4C736.3 615.9 739.7 615.4 743.1 614.9C746.4 614.3 749.8 613.7 753.1 613.1C756.5 612.4 759.9 611.8 763.2 611.0C766.6 610.3 770.0 609.5 773.3 608.7C776.7 607.8 780.1 606.9 783.4 605.9C786.8 605.0 790.2 603.9 793.5 602.8C796.9 601.7 800.3 600.6 803.6 599.3C807.0 598.1 810.4 596.8 813.7 595.4C817.1 594.0 820.5 592.5 823.8 591.0C827.2 589.4 830.6 587.8 833.9 586.1C837.3 584.4 840.6 582.6 844.0 580.8C847.4 579.0 850.7 577.1 854.1 575.2C857.5 573.3 860.8 571.4 864.2 569.6C867.6 567.7 870.9 565.8 874.3 564.0C877.7 562.2 881.0 560.4 884.4 558.7C887.8 557.0 891.1 555.4 894.5 553.8C897.9 552.3 901.2 550.9 904.6 549.6C908.0 548.3 911.3 547.1 914.7 546.1C918.0 545.1 921.4 544.2 924.8 543.5C928.1 542.9 931.5 542.4 934.9 542.1C938.2 541.8 941.6 541.7 945.0 541.8C948.3 541.9 951.7 542.2 955.1 542.6C958.4 543.1 961.8 543.7 965.2 544.6C968.5 545.4 971.9 546.4 975.3 547.6C978.6 548.8 982.0 550.1 985.4 551.6C988.7 553.0 992.1 554.7 995.4 556.4C998.8 558.1 1002.2 560.0 1005.5 561.9C1008.9 563.8 1012.3 565.8 1015.6 567.9C1019.0 569.9 1022.4 572.0 1025.7 574.2C1029.1 576.3 1032.5 578.5 1035.8 580.6C1039.2 582.8 1042.6 585.0 1045.9 587.1C1049.3 589.3 1052.7 591.5 1056.0 593.6C1059.4 595.7 1062.8 597.8 1066.1 599.8C1069.5 601.8 1072.9 603.8 1076.2 605.7C1079.6 607.6 1082.9 609.4 1086.3 611.1C1089.7 612.8 1093.0 614.5 1096.4 616.0C1099.8 617.5 1103.1 618.9 1106.5 620.1C1109.9 621.4 1114.9 622.9 1116.6 623.5" stroke="#4d8d94" stroke-width="1.3" clip-path="url(#cFrame)"/>
<path d="M12.5 555.3C19.2 555.4 39.4 555.7 52.9 556.1C66.3 556.5 79.8 556.9 93.2 557.5C106.7 558.0 120.1 558.6 133.6 559.3C147.0 560.0 160.5 560.7 173.9 561.6C187.4 562.4 200.8 563.3 214.3 564.2C227.7 565.1 241.2 566.1 254.6 567.1C268.1 568.1 281.5 569.2 295.0 570.3C308.4 571.3 321.9 572.5 335.3 573.6C348.8 574.7 362.2 575.9 375.7 577.0C389.1 578.2 402.6 579.3 416.0 580.5C429.5 581.7 442.9 582.8 456.4 584.0C469.8 585.1 483.3 586.3 496.7 587.4C510.2 588.5 523.6 589.6 537.1 590.6C550.6 591.6 564.0 592.7 577.5 593.6C590.9 594.6 604.4 595.5 617.8 596.4C631.3 597.3 644.7 598.2 658.2 599.0C671.6 599.8 685.1 600.6 698.5 601.3C712.0 602.1 725.4 602.8 738.9 603.5C752.3 604.1 765.8 604.8 779.2 605.4C792.7 606.0 806.1 606.5 819.6 607.1C833.0 607.6 846.5 608.1 859.9 608.5C873.4 609.0 886.8 609.4 900.3 609.8C913.7 610.2 927.2 610.6 940.6 610.9C954.1 611.3 967.5 611.6 981.0 611.8C994.4 612.1 1007.9 612.4 1021.3 612.6C1034.8 612.8 1048.2 613.0 1061.7 613.2C1075.2 613.4 1088.6 613.6 1102.1 613.7C1115.5 613.9 1129.0 614.0 1142.4 614.1C1155.9 614.2 1169.3 614.3 1182.8 614.4C1196.2 614.5 1209.7 614.6 1223.1 614.7C1236.6 614.8 1250.0 614.8 1263.5 614.9C1276.9 615.0 1290.4 615.0 1303.8 615.1C1317.3 615.2 1330.7 615.3 1344.2 615.4C1357.6 615.5 1371.1 615.6 1384.5 615.7C1398.0 615.8 1411.4 616.0 1424.9 616.2C1438.3 616.4 1451.8 616.6 1465.2 616.9C1478.7 617.2 1492.1 617.5 1505.6 617.9C1519.0 618.4 1532.5 618.8 1545.9 619.4C1559.4 619.9 1579.6 621.0 1586.3 621.3" stroke="#5f9fd0" stroke-width="1.4" clip-path="url(#cPast)"/>
<path d="M12.5 555.3C19.2 555.4 39.4 555.7 52.9 556.1C66.3 556.5 79.8 556.9 93.2 557.5C106.7 558.0 120.1 558.6 133.6 559.3C147.0 560.0 160.5 560.7 173.9 561.6C187.4 562.4 200.8 563.3 214.3 564.2C227.7 565.1 241.2 566.1 254.6 567.1C268.1 568.1 281.5 569.2 295.0 570.3C308.4 571.3 321.9 572.5 335.3 573.6C348.8 574.7 362.2 575.9 375.7 577.0C389.1 578.2 402.6 579.3 416.0 580.5C429.5 581.7 442.9 582.8 456.4 584.0C469.8 585.1 483.3 586.3 496.7 587.4C510.2 588.5 523.6 589.6 537.1 590.6C550.6 591.6 564.0 592.7 577.5 593.6C590.9 594.6 604.4 595.5 617.8 596.4C631.3 597.3 644.7 598.2 658.2 599.0C671.6 599.8 685.1 600.6 698.5 601.3C712.0 602.1 725.4 602.8 738.9 603.5C752.3 604.1 765.8 604.8 779.2 605.4C792.7 606.0 806.1 606.5 819.6 607.1C833.0 607.6 846.5 608.1 859.9 608.5C873.4 609.0 886.8 609.4 900.3 609.8C913.7 610.2 927.2 610.6 940.6 610.9C954.1 611.3 967.5 611.6 981.0 611.8C994.4 612.1 1007.9 612.4 1021.3 612.6C1034.8 612.8 1048.2 613.0 1061.7 613.2C1075.2 613.4 1088.6 613.6 1102.1 613.7C1115.5 613.9 1129.0 614.0 1142.4 614.1C1155.9 614.2 1169.3 614.3 1182.8 614.4C1196.2 614.5 1209.7 614.6 1223.1 614.7C1236.6 614.8 1250.0 614.8 1263.5 614.9C1276.9 615.0 1290.4 615.0 1303.8 615.1C1317.3 615.2 1330.7 615.3 1344.2 615.4C1357.6 615.5 1371.1 615.6 1384.5 615.7C1398.0 615.8 1411.4 616.0 1424.9 616.2C1438.3 616.4 1451.8 616.6 1465.2 616.9C1478.7 617.2 1492.1 617.5 1505.6 617.9C1519.0 618.4 1532.5 618.8 1545.9 619.4C1559.4 619.9 1579.6 621.0 1586.3 621.3" stroke="#6cb9e2" stroke-width="1.3" stroke-dasharray="3 2.2" clip-path="url(#cFut)"/>
<path d="M12.5 611.5C15.2 611.5 23.2 611.5 28.6 611.5C33.9 611.5 39.3 611.5 44.6 611.5C50.0 611.5 55.3 611.5 60.7 611.4C66.0 611.4 71.4 611.4 76.7 611.4C82.1 611.3 87.4 611.2 92.8 611.2C98.1 611.1 103.5 611.0 108.9 610.9C114.2 610.7 119.6 610.6 124.9 610.4C130.3 610.2 135.6 610.0 141.0 609.8C146.3 609.5 151.7 609.2 157.0 608.9C162.4 608.6 167.7 608.2 173.1 607.8C178.4 607.4 183.8 606.9 189.2 606.4C194.5 605.9 199.9 605.3 205.2 604.7C210.6 604.1 215.9 603.4 221.3 602.7C226.6 601.9 232.0 601.2 237.3 600.3C242.7 599.4 248.0 598.5 253.4 597.5C258.7 596.5 264.1 595.4 269.4 594.3C274.8 593.1 280.2 591.9 285.5 590.7C290.9 589.4 296.2 588.1 301.6 586.7C306.9 585.4 312.3 584.0 317.6 582.6C323.0 581.2 328.3 579.8 333.7 578.4C339.0 576.9 344.4 575.5 349.7 574.0C355.1 572.6 360.4 571.2 365.8 569.8C371.2 568.4 376.5 567.0 381.9 565.6C387.2 564.3 392.6 562.9 397.9 561.6C403.3 560.3 408.6 559.1 414.0 557.9C419.3 556.7 424.7 555.5 430.0 554.3C435.4 553.2 440.7 552.1 446.1 551.1C451.5 550.0 456.8 549.0 462.2 548.0C467.5 547.1 472.9 546.2 478.2 545.3C483.6 544.4 488.9 543.6 494.3 542.8C499.6 542.1 505.0 541.4 510.3 540.7C515.7 540.1 521.0 539.5 526.4 538.9C531.7 538.4 537.1 537.9 542.5 537.5C547.8 537.0 553.2 536.7 558.5 536.4C563.9 536.1 569.2 535.8 574.6 535.7C579.9 535.5 585.3 535.4 590.6 535.3C596.0 535.3 601.3 535.4 606.7 535.5C612.0 535.6 617.4 535.7 622.7 536.0C628.1 536.2 633.5 536.5 638.8 536.9C644.2 537.3 649.5 537.7 654.9 538.2C660.2 538.7 665.6 539.3 670.9 539.9C676.3 540.5 681.6 541.2 687.0 541.9C692.3 542.6 697.7 543.4 703.0 544.2C708.4 545.1 713.8 545.9 719.1 546.9C724.5 547.8 729.8 548.8 735.2 549.8C740.5 550.8 745.9 551.9 751.2 553.0C756.6 554.1 761.9 555.2 767.3 556.4C772.6 557.6 778.0 558.7 783.3 559.9C788.7 561.1 794.0 562.4 799.4 563.6C804.8 564.8 810.1 566.1 815.5 567.3C820.8 568.5 826.2 569.8 831.5 571.0C836.9 572.3 842.2 573.5 847.6 574.7C852.9 575.9 858.3 577.2 863.6 578.3C869.0 579.5 874.3 580.7 879.7 581.8C885.0 583.0 890.4 584.1 895.8 585.2C901.1 586.2 906.5 587.3 911.8 588.3C917.2 589.2 922.5 590.2 927.9 591.1C933.2 592.0 938.6 592.9 943.9 593.7C949.3 594.6 954.6 595.4 960.0 596.1C965.3 596.9 970.7 597.6 976.1 598.3C981.4 598.9 986.8 599.6 992.1 600.2C997.5 600.8 1002.8 601.3 1008.2 601.8C1013.5 602.3 1018.9 602.8 1024.2 603.3C1029.6 603.7 1034.9 604.1 1040.3 604.5C1045.6 604.8 1051.0 605.2 1056.3 605.5C1061.7 605.8 1067.1 606.1 1072.4 606.3C1077.8 606.6 1083.1 606.8 1088.5 607.0C1093.8 607.2 1099.2 607.4 1104.5 607.5C1109.9 607.7 1115.2 607.8 1120.6 608.0C1125.9 608.1 1131.3 608.2 1136.6 608.3C1142.0 608.4 1147.3 608.5 1152.7 608.6C1158.1 608.7 1163.4 608.7 1168.8 608.8C1174.1 608.9 1179.5 608.9 1184.8 609.0C1190.2 609.0 1195.5 609.1 1200.9 609.1C1206.2 609.1 1211.6 609.2 1216.9 609.2C1222.3 609.2 1227.6 609.2 1233.0 609.3C1238.4 609.3 1243.7 609.3 1249.1 609.3C1254.4 609.3 1259.8 609.4 1265.1 609.4C1270.5 609.4 1275.8 609.4 1281.2 609.5C1286.5 609.5 1291.9 609.5 1297.2 609.6C1302.6 609.6 1307.9 609.7 1313.3 609.7C1318.6 609.8 1324.0 609.8 1329.4 609.9C1334.7 610.0 1340.1 610.0 1345.4 610.1C1350.8 610.2 1356.1 610.3 1361.5 610.4C1366.8 610.5 1372.2 610.6 1377.5 610.7C1382.9 610.8 1388.2 610.9 1393.6 611.1C1398.9 611.2 1404.3 611.3 1409.6 611.5C1415.0 611.6 1420.4 611.8 1425.7 612.0C1431.1 612.1 1436.4 612.3 1441.8 612.5C1447.1 612.7 1452.5 612.9 1457.8 613.1C1463.2 613.3 1468.5 613.5 1473.9 613.8C1479.2 614.0 1484.6 614.3 1489.9 614.5C1495.3 614.8 1500.7 615.0 1506.0 615.3C1511.4 615.6 1516.7 615.9 1522.1 616.2C1527.4 616.5 1532.8 616.8 1538.1 617.2C1543.5 617.5 1548.8 617.8 1554.2 618.2C1559.5 618.5 1564.9 618.9 1570.2 619.3C1575.6 619.7 1583.6 620.3 1586.3 620.5" stroke="#1f9a98" stroke-width="1.55" clip-path="url(#cPast)"/>
<path d="M12.5 611.5C15.2 611.5 23.2 611.5 28.6 611.5C33.9 611.5 39.3 611.5 44.6 611.5C50.0 611.5 55.3 611.5 60.7 611.4C66.0 611.4 71.4 611.4 76.7 611.4C82.1 611.3 87.4 611.2 92.8 611.2C98.1 611.1 103.5 611.0 108.9 610.9C114.2 610.7 119.6 610.6 124.9 610.4C130.3 610.2 135.6 610.0 141.0 609.8C146.3 609.5 151.7 609.2 157.0 608.9C162.4 608.6 167.7 608.2 173.1 607.8C178.4 607.4 183.8 606.9 189.2 606.4C194.5 605.9 199.9 605.3 205.2 604.7C210.6 604.1 215.9 603.4 221.3 602.7C226.6 601.9 232.0 601.2 237.3 600.3C242.7 599.4 248.0 598.5 253.4 597.5C258.7 596.5 264.1 595.4 269.4 594.3C274.8 593.1 280.2 591.9 285.5 590.7C290.9 589.4 296.2 588.1 301.6 586.7C306.9 585.4 312.3 584.0 317.6 582.6C323.0 581.2 328.3 579.8 333.7 578.4C339.0 576.9 344.4 575.5 349.7 574.0C355.1 572.6 360.4 571.2 365.8 569.8C371.2 568.4 376.5 567.0 381.9 565.6C387.2 564.3 392.6 562.9 397.9 561.6C403.3 560.3 408.6 559.1 414.0 557.9C419.3 556.7 424.7 555.5 430.0 554.3C435.4 553.2 440.7 552.1 446.1 551.1C451.5 550.0 456.8 549.0 462.2 548.0C467.5 547.1 472.9 546.2 478.2 545.3C483.6 544.4 488.9 543.6 494.3 542.8C499.6 542.1 505.0 541.4 510.3 540.7C515.7 540.1 521.0 539.5 526.4 538.9C531.7 538.4 537.1 537.9 542.5 537.5C547.8 537.0 553.2 536.7 558.5 536.4C563.9 536.1 569.2 535.8 574.6 535.7C579.9 535.5 585.3 535.4 590.6 535.3C596.0 535.3 601.3 535.4 606.7 535.5C612.0 535.6 617.4 535.7 622.7 536.0C628.1 536.2 633.5 536.5 638.8 536.9C644.2 537.3 649.5 537.7 654.9 538.2C660.2 538.7 665.6 539.3 670.9 539.9C676.3 540.5 681.6 541.2 687.0 541.9C692.3 542.6 697.7 543.4 703.0 544.2C708.4 545.1 713.8 545.9 719.1 546.9C724.5 547.8 729.8 548.8 735.2 549.8C740.5 550.8 745.9 551.9 751.2 553.0C756.6 554.1 761.9 555.2 767.3 556.4C772.6 557.6 778.0 558.7 783.3 559.9C788.7 561.1 794.0 562.4 799.4 563.6C804.8 564.8 810.1 566.1 815.5 567.3C820.8 568.5 826.2 569.8 831.5 571.0C836.9 572.3 842.2 573.5 847.6 574.7C852.9 575.9 858.3 577.2 863.6 578.3C869.0 579.5 874.3 580.7 879.7 581.8C885.0 583.0 890.4 584.1 895.8 585.2C901.1 586.2 906.5 587.3 911.8 588.3C917.2 589.2 922.5 590.2 927.9 591.1C933.2 592.0 938.6 592.9 943.9 593.7C949.3 594.6 954.6 595.4 960.0 596.1C965.3 596.9 970.7 597.6 976.1 598.3C981.4 598.9 986.8 599.6 992.1 600.2C997.5 600.8 1002.8 601.3 1008.2 601.8C1013.5 602.3 1018.9 602.8 1024.2 603.3C1029.6 603.7 1034.9 604.1 1040.3 604.5C1045.6 604.8 1051.0 605.2 1056.3 605.5C1061.7 605.8 1067.1 606.1 1072.4 606.3C1077.8 606.6 1083.1 606.8 1088.5 607.0C1093.8 607.2 1099.2 607.4 1104.5 607.5C1109.9 607.7 1115.2 607.8 1120.6 608.0C1125.9 608.1 1131.3 608.2 1136.6 608.3C1142.0 608.4 1147.3 608.5 1152.7 608.6C1158.1 608.7 1163.4 608.7 1168.8 608.8C1174.1 608.9 1179.5 608.9 1184.8 609.0C1190.2 609.0 1195.5 609.1 1200.9 609.1C1206.2 609.1 1211.6 609.2 1216.9 609.2C1222.3 609.2 1227.6 609.2 1233.0 609.3C1238.4 609.3 1243.7 609.3 1249.1 609.3C1254.4 609.3 1259.8 609.4 1265.1 609.4C1270.5 609.4 1275.8 609.4 1281.2 609.5C1286.5 609.5 1291.9 609.5 1297.2 609.6C1302.6 609.6 1307.9 609.7 1313.3 609.7C1318.6 609.8 1324.0 609.8 1329.4 609.9C1334.7 610.0 1340.1 610.0 1345.4 610.1C1350.8 610.2 1356.1 610.3 1361.5 610.4C1366.8 610.5 1372.2 610.6 1377.5 610.7C1382.9 610.8 1388.2 610.9 1393.6 611.1C1398.9 611.2 1404.3 611.3 1409.6 611.5C1415.0 611.6 1420.4 611.8 1425.7 612.0C1431.1 612.1 1436.4 612.3 1441.8 612.5C1447.1 612.7 1452.5 612.9 1457.8 613.1C1463.2 613.3 1468.5 613.5 1473.9 613.8C1479.2 614.0 1484.6 614.3 1489.9 614.5C1495.3 614.8 1500.7 615.0 1506.0 615.3C1511.4 615.6 1516.7 615.9 1522.1 616.2C1527.4 616.5 1532.8 616.8 1538.1 617.2C1543.5 617.5 1548.8 617.8 1554.2 618.2C1559.5 618.5 1564.9 618.9 1570.2 619.3C1575.6 619.7 1583.6 620.3 1586.3 620.5" stroke="#22a5a0" stroke-width="1.3" stroke-dasharray="3 2.2" clip-path="url(#cFut)"/>
<path d="M12.5 599.0C14.0 599.0 18.5 598.9 21.5 598.8C24.5 598.7 27.5 598.7 30.5 598.6C33.5 598.5 36.5 598.5 39.5 598.4C42.5 598.4 45.5 598.3 48.5 598.3C51.5 598.2 54.5 598.2 57.5 598.1C60.5 598.1 63.5 598.1 66.5 598.0C69.5 598.0 72.5 598.0 75.5 598.0C78.4 597.9 81.4 597.9 84.4 597.9C87.4 597.9 90.4 597.8 93.4 597.8C96.4 597.8 99.4 597.8 102.4 597.8C105.4 597.8 108.4 597.8 111.4 597.8C114.4 597.8 117.4 597.7 120.4 597.7C123.4 597.7 126.4 597.7 129.4 597.7C132.4 597.7 135.4 597.7 138.4 597.7C141.4 597.7 144.4 597.8 147.4 597.8C150.4 597.8 153.4 597.8 156.4 597.8C159.4 597.8 162.4 597.8 165.4 597.8C168.4 597.8 171.4 597.8 174.4 597.8C177.4 597.8 180.4 597.9 183.4 597.9C186.4 597.9 189.4 597.9 192.4 597.9C195.4 597.9 198.4 597.9 201.4 597.9C204.4 597.9 207.4 598.0 210.3 598.0C213.3 598.0 216.3 598.0 219.3 598.0C222.3 598.0 225.3 598.0 228.3 598.0C231.3 598.0 234.3 598.0 237.3 598.0C240.3 598.1 243.3 598.1 246.3 598.1C249.3 598.1 252.3 598.1 255.3 598.1C258.3 598.1 261.3 598.1 264.3 598.1C267.3 598.1 270.3 598.1 273.3 598.1C276.3 598.1 279.3 598.0 282.3 598.0C285.3 598.0 288.3 598.0 291.3 598.0C294.3 598.0 297.3 598.0 300.3 598.0C303.3 597.9 306.3 597.9 309.3 597.9C312.3 597.9 315.3 597.8 318.3 597.8C321.3 597.8 324.3 597.8 327.3 597.7C330.3 597.7 333.3 597.6 336.3 597.6C339.3 597.6 342.2 597.5 345.2 597.5C348.2 597.4 351.2 597.4 354.2 597.3C357.2 597.2 360.2 597.2 363.2 597.1C366.2 597.1 369.2 597.0 372.2 596.9C375.2 596.8 378.2 596.8 381.2 596.7C384.2 596.6 387.2 596.5 390.2 596.4C393.2 596.3 396.2 596.2 399.2 596.1C402.2 596.0 405.2 595.9 408.2 595.8C411.2 595.7 414.2 595.6 417.2 595.5C420.2 595.3 423.2 595.2 426.2 595.1C429.2 594.9 432.2 594.8 435.2 594.7C438.2 594.5 441.2 594.4 444.2 594.2C447.2 594.1 450.2 593.9 453.2 593.7C456.2 593.6 459.2 593.4 462.2 593.2C465.2 593.0 468.2 592.8 471.2 592.6C474.1 592.5 477.1 592.3 480.1 592.0C483.1 591.8 486.1 591.6 489.1 591.4C492.1 591.2 495.1 591.0 498.1 590.7C501.1 590.5 504.1 590.2 507.1 590.0C510.1 589.7 513.1 589.5 516.1 589.2C519.1 588.9 522.1 588.7 525.1 588.4C528.1 588.1 531.1 587.8 534.1 587.5C537.1 587.2 540.1 586.9 543.1 586.6C546.1 586.3 549.1 585.9 552.1 585.6C555.1 585.3 558.1 584.9 561.1 584.6C564.1 584.2 567.1 583.8 570.1 583.5C573.1 583.1 576.1 582.7 579.1 582.3C582.1 581.9 585.1 581.5 588.1 581.1C591.1 580.6 594.1 580.2 597.1 579.8C600.1 579.3 603.0 578.9 606.0 578.4C609.0 577.9 612.0 577.5 615.0 577.0C618.0 576.5 621.0 576.0 624.0 575.4C627.0 574.9 630.0 574.4 633.0 573.9C636.0 573.3 639.0 572.8 642.0 572.2C645.0 571.6 648.0 571.0 651.0 570.4C654.0 569.8 657.0 569.2 660.0 568.6C663.0 568.0 666.0 567.3 669.0 566.7C672.0 566.0 675.0 565.3 678.0 564.7C681.0 564.0 684.0 563.3 687.0 562.6C690.0 561.8 693.0 561.1 696.0 560.4C699.0 559.6 702.0 558.8 705.0 558.1C708.0 557.3 711.0 556.5 714.0 555.7C717.0 554.9 720.0 554.0 723.0 553.2C726.0 552.4 729.0 551.5 732.0 550.6C734.9 549.7 737.9 548.8 740.9 547.9C743.9 547.0 746.9 546.1 749.9 545.2C752.9 544.2 755.9 543.3 758.9 542.3C761.9 541.3 764.9 540.3 767.9 539.3C770.9 538.3 773.9 537.2 776.9 536.2C779.9 535.1 782.9 534.1 785.9 533.0C788.9 531.9 791.9 530.8 794.9 529.7C797.9 528.6 800.9 527.4 803.9 526.3C806.9 525.1 809.9 523.9 812.9 522.7C815.9 521.5 818.9 520.3 821.9 519.1C824.9 517.9 827.9 516.6 830.9 515.3C833.9 514.1 836.9 512.8 839.9 511.5C842.9 510.2 845.9 508.8 848.9 507.5C851.9 506.1 854.9 504.8 857.9 503.4C860.9 502.0 863.9 500.6 866.8 499.1C869.8 497.7 872.8 496.3 875.8 494.8C878.8 493.3 881.8 491.8 884.8 490.3C887.8 488.8 890.8 487.3 893.8 485.7C896.8 484.2 899.8 482.6 902.8 481.0C905.8 479.4 908.8 477.8 911.8 476.2C914.8 474.6 917.8 472.9 920.8 471.2C923.8 469.5 926.8 467.9 929.8 466.1C932.8 464.4 935.8 462.7 938.8 460.9C941.8 459.2 944.8 457.4 947.8 455.6C950.8 453.8 953.8 451.9 956.8 450.1C959.8 448.3 962.8 446.4 965.8 444.5C968.8 442.6 971.8 440.7 974.8 438.8C977.8 436.8 980.8 434.9 983.8 432.9C986.8 430.9 989.8 428.9 992.8 426.9C995.8 424.9 998.7 422.8 1001.7 420.8C1004.7 418.7 1007.7 416.6 1010.7 414.5C1013.7 412.4 1016.7 410.3 1019.7 408.1C1022.7 406.0 1025.7 403.8 1028.7 401.6C1031.7 399.4 1034.7 397.2 1037.7 394.9C1040.7 392.7 1043.7 390.4 1046.7 388.2C1049.7 385.9 1052.7 383.6 1055.7 381.3C1058.7 378.9 1061.7 376.6 1064.7 374.3C1067.7 372.0 1070.7 369.7 1073.7 367.4C1076.7 365.2 1079.7 362.9 1082.7 360.7C1085.7 358.5 1088.7 356.3 1091.7 354.2C1094.7 352.1 1097.7 350.0 1100.7 348.0C1103.7 346.0 1106.7 344.1 1109.7 342.2C1112.7 340.4 1115.7 338.6 1118.7 336.9C1121.7 335.3 1124.7 333.7 1127.6 332.2C1130.6 330.7 1133.6 329.4 1136.6 328.1C1139.6 326.9 1142.6 325.8 1145.6 324.8C1148.6 323.8 1151.6 322.9 1154.6 322.2C1157.6 321.5 1160.6 320.9 1163.6 320.5C1166.6 320.0 1169.6 319.7 1172.6 319.5C1175.6 319.3 1178.6 319.2 1181.6 319.2C1184.6 319.2 1187.6 319.3 1190.6 319.5C1193.6 319.7 1196.6 320.1 1199.6 320.5C1202.6 320.9 1205.6 321.4 1208.6 322.0C1211.6 322.6 1214.6 323.2 1217.6 324.0C1220.6 324.7 1223.6 325.6 1226.6 326.5C1229.6 327.4 1232.6 328.3 1235.6 329.4C1238.6 330.4 1241.6 331.5 1244.6 332.6C1247.6 333.8 1250.6 335.0 1253.6 336.2C1256.6 337.5 1259.5 338.7 1262.5 340.1C1265.5 341.4 1268.5 342.8 1271.5 344.2C1274.5 345.7 1277.5 347.2 1280.5 348.9C1283.5 350.6 1286.5 352.3 1289.5 354.3C1292.5 356.3 1295.5 358.3 1298.5 360.6C1301.5 363.0 1304.5 365.5 1307.5 368.2C1310.5 370.8 1313.5 373.9 1316.5 376.5C1319.5 379.1 1322.5 381.8 1325.5 383.7C1328.5 385.6 1331.5 387.1 1334.5 388.1C1337.5 389.0 1340.5 389.4 1343.5 389.3C1346.5 389.2 1349.5 388.6 1352.5 387.5C1355.5 386.5 1358.5 384.9 1361.5 383.1C1364.5 381.3 1367.5 379.0 1370.5 376.7C1373.5 374.3 1376.5 371.7 1379.5 369.2C1382.5 366.6 1385.5 363.9 1388.5 361.4C1391.4 359.0 1394.4 356.5 1397.4 354.3C1400.4 352.2 1403.4 350.2 1406.4 348.8C1409.4 347.3 1412.4 346.1 1415.4 345.5C1418.4 345.0 1421.4 344.8 1424.4 345.5C1427.4 346.1 1430.4 347.4 1433.4 349.5C1436.4 351.7 1439.4 354.5 1442.4 358.5C1445.4 362.4 1448.4 367.3 1451.4 373.2C1454.4 379.2 1457.4 386.7 1460.4 394.2C1463.4 401.8 1466.4 410.7 1469.4 418.8C1472.4 426.9 1475.4 435.2 1478.4 442.9C1481.4 450.5 1484.4 458.0 1487.4 464.7C1490.4 471.5 1493.4 477.7 1496.4 483.3C1499.4 489.0 1502.4 494.0 1505.4 498.7C1508.4 503.5 1511.4 507.7 1514.4 511.7C1517.4 515.7 1520.4 519.3 1523.3 522.8C1526.3 526.3 1529.3 529.5 1532.3 532.7C1535.3 535.9 1538.3 539.0 1541.3 542.2C1544.3 545.4 1547.3 548.6 1550.3 551.7C1553.3 554.9 1556.3 558.1 1559.3 561.2C1562.3 564.3 1565.3 567.4 1568.3 570.3C1571.3 573.2 1574.3 576.1 1577.3 578.7C1580.3 581.3 1584.8 584.8 1586.3 586.0" stroke="#1b6273" stroke-width="1.55" clip-path="url(#cPast)"/>
<path d="M12.5 599.0C14.0 599.0 18.5 598.9 21.5 598.8C24.5 598.7 27.5 598.7 30.5 598.6C33.5 598.5 36.5 598.5 39.5 598.4C42.5 598.4 45.5 598.3 48.5 598.3C51.5 598.2 54.5 598.2 57.5 598.1C60.5 598.1 63.5 598.1 66.5 598.0C69.5 598.0 72.5 598.0 75.5 598.0C78.4 597.9 81.4 597.9 84.4 597.9C87.4 597.9 90.4 597.8 93.4 597.8C96.4 597.8 99.4 597.8 102.4 597.8C105.4 597.8 108.4 597.8 111.4 597.8C114.4 597.8 117.4 597.7 120.4 597.7C123.4 597.7 126.4 597.7 129.4 597.7C132.4 597.7 135.4 597.7 138.4 597.7C141.4 597.7 144.4 597.8 147.4 597.8C150.4 597.8 153.4 597.8 156.4 597.8C159.4 597.8 162.4 597.8 165.4 597.8C168.4 597.8 171.4 597.8 174.4 597.8C177.4 597.8 180.4 597.9 183.4 597.9C186.4 597.9 189.4 597.9 192.4 597.9C195.4 597.9 198.4 597.9 201.4 597.9C204.4 597.9 207.4 598.0 210.3 598.0C213.3 598.0 216.3 598.0 219.3 598.0C222.3 598.0 225.3 598.0 228.3 598.0C231.3 598.0 234.3 598.0 237.3 598.0C240.3 598.1 243.3 598.1 246.3 598.1C249.3 598.1 252.3 598.1 255.3 598.1C258.3 598.1 261.3 598.1 264.3 598.1C267.3 598.1 270.3 598.1 273.3 598.1C276.3 598.1 279.3 598.0 282.3 598.0C285.3 598.0 288.3 598.0 291.3 598.0C294.3 598.0 297.3 598.0 300.3 598.0C303.3 597.9 306.3 597.9 309.3 597.9C312.3 597.9 315.3 597.8 318.3 597.8C321.3 597.8 324.3 597.8 327.3 597.7C330.3 597.7 333.3 597.6 336.3 597.6C339.3 597.6 342.2 597.5 345.2 597.5C348.2 597.4 351.2 597.4 354.2 597.3C357.2 597.2 360.2 597.2 363.2 597.1C366.2 597.1 369.2 597.0 372.2 596.9C375.2 596.8 378.2 596.8 381.2 596.7C384.2 596.6 387.2 596.5 390.2 596.4C393.2 596.3 396.2 596.2 399.2 596.1C402.2 596.0 405.2 595.9 408.2 595.8C411.2 595.7 414.2 595.6 417.2 595.5C420.2 595.3 423.2 595.2 426.2 595.1C429.2 594.9 432.2 594.8 435.2 594.7C438.2 594.5 441.2 594.4 444.2 594.2C447.2 594.1 450.2 593.9 453.2 593.7C456.2 593.6 459.2 593.4 462.2 593.2C465.2 593.0 468.2 592.8 471.2 592.6C474.1 592.5 477.1 592.3 480.1 592.0C483.1 591.8 486.1 591.6 489.1 591.4C492.1 591.2 495.1 591.0 498.1 590.7C501.1 590.5 504.1 590.2 507.1 590.0C510.1 589.7 513.1 589.5 516.1 589.2C519.1 588.9 522.1 588.7 525.1 588.4C528.1 588.1 531.1 587.8 534.1 587.5C537.1 587.2 540.1 586.9 543.1 586.6C546.1 586.3 549.1 585.9 552.1 585.6C555.1 585.3 558.1 584.9 561.1 584.6C564.1 584.2 567.1 583.8 570.1 583.5C573.1 583.1 576.1 582.7 579.1 582.3C582.1 581.9 585.1 581.5 588.1 581.1C591.1 580.6 594.1 580.2 597.1 579.8C600.1 579.3 603.0 578.9 606.0 578.4C609.0 577.9 612.0 577.5 615.0 577.0C618.0 576.5 621.0 576.0 624.0 575.4C627.0 574.9 630.0 574.4 633.0 573.9C636.0 573.3 639.0 572.8 642.0 572.2C645.0 571.6 648.0 571.0 651.0 570.4C654.0 569.8 657.0 569.2 660.0 568.6C663.0 568.0 666.0 567.3 669.0 566.7C672.0 566.0 675.0 565.3 678.0 564.7C681.0 564.0 684.0 563.3 687.0 562.6C690.0 561.8 693.0 561.1 696.0 560.4C699.0 559.6 702.0 558.8 705.0 558.1C708.0 557.3 711.0 556.5 714.0 555.7C717.0 554.9 720.0 554.0 723.0 553.2C726.0 552.4 729.0 551.5 732.0 550.6C734.9 549.7 737.9 548.8 740.9 547.9C743.9 547.0 746.9 546.1 749.9 545.2C752.9 544.2 755.9 543.3 758.9 542.3C761.9 541.3 764.9 540.3 767.9 539.3C770.9 538.3 773.9 537.2 776.9 536.2C779.9 535.1 782.9 534.1 785.9 533.0C788.9 531.9 791.9 530.8 794.9 529.7C797.9 528.6 800.9 527.4 803.9 526.3C806.9 525.1 809.9 523.9 812.9 522.7C815.9 521.5 818.9 520.3 821.9 519.1C824.9 517.9 827.9 516.6 830.9 515.3C833.9 514.1 836.9 512.8 839.9 511.5C842.9 510.2 845.9 508.8 848.9 507.5C851.9 506.1 854.9 504.8 857.9 503.4C860.9 502.0 863.9 500.6 866.8 499.1C869.8 497.7 872.8 496.3 875.8 494.8C878.8 493.3 881.8 491.8 884.8 490.3C887.8 488.8 890.8 487.3 893.8 485.7C896.8 484.2 899.8 482.6 902.8 481.0C905.8 479.4 908.8 477.8 911.8 476.2C914.8 474.6 917.8 472.9 920.8 471.2C923.8 469.5 926.8 467.9 929.8 466.1C932.8 464.4 935.8 462.7 938.8 460.9C941.8 459.2 944.8 457.4 947.8 455.6C950.8 453.8 953.8 451.9 956.8 450.1C959.8 448.3 962.8 446.4 965.8 444.5C968.8 442.6 971.8 440.7 974.8 438.8C977.8 436.8 980.8 434.9 983.8 432.9C986.8 430.9 989.8 428.9 992.8 426.9C995.8 424.9 998.7 422.8 1001.7 420.8C1004.7 418.7 1007.7 416.6 1010.7 414.5C1013.7 412.4 1016.7 410.3 1019.7 408.1C1022.7 406.0 1025.7 403.8 1028.7 401.6C1031.7 399.4 1034.7 397.2 1037.7 394.9C1040.7 392.7 1043.7 390.4 1046.7 388.2C1049.7 385.9 1052.7 383.6 1055.7 381.3C1058.7 378.9 1061.7 376.6 1064.7 374.3C1067.7 372.0 1070.7 369.7 1073.7 367.4C1076.7 365.2 1079.7 362.9 1082.7 360.7C1085.7 358.5 1088.7 356.3 1091.7 354.2C1094.7 352.1 1097.7 350.0 1100.7 348.0C1103.7 346.0 1106.7 344.1 1109.7 342.2C1112.7 340.4 1115.7 338.6 1118.7 336.9C1121.7 335.3 1124.7 333.7 1127.6 332.2C1130.6 330.7 1133.6 329.4 1136.6 328.1C1139.6 326.9 1142.6 325.8 1145.6 324.8C1148.6 323.8 1151.6 322.9 1154.6 322.2C1157.6 321.5 1160.6 320.9 1163.6 320.5C1166.6 320.0 1169.6 319.7 1172.6 319.5C1175.6 319.3 1178.6 319.2 1181.6 319.2C1184.6 319.2 1187.6 319.3 1190.6 319.5C1193.6 319.7 1196.6 320.1 1199.6 320.5C1202.6 320.9 1205.6 321.4 1208.6 322.0C1211.6 322.6 1214.6 323.2 1217.6 324.0C1220.6 324.7 1223.6 325.6 1226.6 326.5C1229.6 327.4 1232.6 328.3 1235.6 329.4C1238.6 330.4 1241.6 331.5 1244.6 332.6C1247.6 333.8 1250.6 335.0 1253.6 336.2C1256.6 337.5 1259.5 338.7 1262.5 340.1C1265.5 341.4 1268.5 342.8 1271.5 344.2C1274.5 345.7 1277.5 347.2 1280.5 348.9C1283.5 350.6 1286.5 352.3 1289.5 354.3C1292.5 356.3 1295.5 358.3 1298.5 360.6C1301.5 363.0 1304.5 365.5 1307.5 368.2C1310.5 370.8 1313.5 373.9 1316.5 376.5C1319.5 379.1 1322.5 381.8 1325.5 383.7C1328.5 385.6 1331.5 387.1 1334.5 388.1C1337.5 389.0 1340.5 389.4 1343.5 389.3C1346.5 389.2 1349.5 388.6 1352.5 387.5C1355.5 386.5 1358.5 384.9 1361.5 383.1C1364.5 381.3 1367.5 379.0 1370.5 376.7C1373.5 374.3 1376.5 371.7 1379.5 369.2C1382.5 366.6 1385.5 363.9 1388.5 361.4C1391.4 359.0 1394.4 356.5 1397.4 354.3C1400.4 352.2 1403.4 350.2 1406.4 348.8C1409.4 347.3 1412.4 346.1 1415.4 345.5C1418.4 345.0 1421.4 344.8 1424.4 345.5C1427.4 346.1 1430.4 347.4 1433.4 349.5C1436.4 351.7 1439.4 354.5 1442.4 358.5C1445.4 362.4 1448.4 367.3 1451.4 373.2C1454.4 379.2 1457.4 386.7 1460.4 394.2C1463.4 401.8 1466.4 410.7 1469.4 418.8C1472.4 426.9 1475.4 435.2 1478.4 442.9C1481.4 450.5 1484.4 458.0 1487.4 464.7C1490.4 471.5 1493.4 477.7 1496.4 483.3C1499.4 489.0 1502.4 494.0 1505.4 498.7C1508.4 503.5 1511.4 507.7 1514.4 511.7C1517.4 515.7 1520.4 519.3 1523.3 522.8C1526.3 526.3 1529.3 529.5 1532.3 532.7C1535.3 535.9 1538.3 539.0 1541.3 542.2C1544.3 545.4 1547.3 548.6 1550.3 551.7C1553.3 554.9 1556.3 558.1 1559.3 561.2C1562.3 564.3 1565.3 567.4 1568.3 570.3C1571.3 573.2 1574.3 576.1 1577.3 578.7C1580.3 581.3 1584.8 584.8 1586.3 586.0" stroke="#17706e" stroke-width="1.4" stroke-dasharray="3.2 2.2" clip-path="url(#cFut)"/>
<path d="M1145.5 623.5C1148.4 618.5 1157.3 603.7 1163.0 593.8C1168.6 583.9 1174.1 574.0 1179.5 564.1C1184.8 554.2 1190.0 544.3 1195.0 534.4C1200.0 524.5 1204.9 514.6 1209.6 504.7C1214.3 494.8 1218.9 484.9 1223.3 475.0C1227.7 465.1 1232.0 455.2 1236.1 445.3C1240.3 435.4 1244.3 425.5 1248.1 415.6C1252.0 405.7 1255.7 395.8 1259.4 385.9C1263.0 376.0 1266.5 366.1 1269.8 356.2C1273.2 346.3 1276.5 336.4 1279.6 326.5C1282.8 316.6 1285.8 306.7 1288.7 296.8C1291.7 286.9 1294.5 277.0 1297.2 267.1C1299.9 257.2 1303.2 244.4 1305.1 237.4C1307.0 230.4 1307.3 228.8 1308.4 224.8C1309.5 220.8 1310.4 216.6 1311.6 213.6C1312.8 210.6 1314.2 208.4 1315.6 206.8C1317.0 205.2 1318.7 204.3 1320.2 204.3C1321.7 204.3 1323.3 205.1 1324.6 206.6C1325.9 208.1 1327.0 210.4 1328.2 213.4C1329.4 216.4 1330.4 220.6 1331.5 224.6C1332.6 228.6 1333.7 230.3 1334.9 237.4C1336.2 244.5 1337.7 257.2 1339.0 267.1C1340.4 277.0 1341.8 286.9 1343.2 296.8C1344.6 306.7 1346.0 316.6 1347.4 326.5C1348.9 336.4 1350.3 346.3 1351.8 356.2C1353.3 366.1 1354.8 376.0 1356.3 385.9C1357.8 395.8 1359.4 405.7 1361.0 415.6C1362.6 425.5 1364.3 435.4 1366.0 445.3C1367.7 455.2 1369.4 465.1 1371.2 475.0C1373.0 484.9 1374.8 494.8 1376.8 504.7C1378.7 514.6 1380.6 524.5 1382.7 534.4C1384.7 544.3 1386.8 554.2 1389.0 564.1C1391.2 574.0 1393.5 583.9 1395.8 593.8C1398.2 603.7 1401.9 618.5 1403.1 623.5" stroke="#3e8187" stroke-width="1.3" clip-path="url(#cPast)"/>
<path d="M1145.5 623.5C1148.4 618.5 1157.3 603.7 1163.0 593.8C1168.6 583.9 1174.1 574.0 1179.5 564.1C1184.8 554.2 1190.0 544.3 1195.0 534.4C1200.0 524.5 1204.9 514.6 1209.6 504.7C1214.3 494.8 1218.9 484.9 1223.3 475.0C1227.7 465.1 1232.0 455.2 1236.1 445.3C1240.3 435.4 1244.3 425.5 1248.1 415.6C1252.0 405.7 1255.7 395.8 1259.4 385.9C1263.0 376.0 1266.5 366.1 1269.8 356.2C1273.2 346.3 1276.5 336.4 1279.6 326.5C1282.8 316.6 1285.8 306.7 1288.7 296.8C1291.7 286.9 1294.5 277.0 1297.2 267.1C1299.9 257.2 1303.2 244.4 1305.1 237.4C1307.0 230.4 1307.3 228.8 1308.4 224.8C1309.5 220.8 1310.4 216.6 1311.6 213.6C1312.8 210.6 1314.2 208.4 1315.6 206.8C1317.0 205.2 1318.7 204.3 1320.2 204.3C1321.7 204.3 1323.3 205.1 1324.6 206.6C1325.9 208.1 1327.0 210.4 1328.2 213.4C1329.4 216.4 1330.4 220.6 1331.5 224.6C1332.6 228.6 1333.7 230.3 1334.9 237.4C1336.2 244.5 1337.7 257.2 1339.0 267.1C1340.4 277.0 1341.8 286.9 1343.2 296.8C1344.6 306.7 1346.0 316.6 1347.4 326.5C1348.9 336.4 1350.3 346.3 1351.8 356.2C1353.3 366.1 1354.8 376.0 1356.3 385.9C1357.8 395.8 1359.4 405.7 1361.0 415.6C1362.6 425.5 1364.3 435.4 1366.0 445.3C1367.7 455.2 1369.4 465.1 1371.2 475.0C1373.0 484.9 1374.8 494.8 1376.8 504.7C1378.7 514.6 1380.6 524.5 1382.7 534.4C1384.7 544.3 1386.8 554.2 1389.0 564.1C1391.2 574.0 1393.5 583.9 1395.8 593.8C1398.2 603.7 1401.9 618.5 1403.1 623.5" stroke="#3a7376" stroke-width="1.25" stroke-dasharray="3.2 2.2" clip-path="url(#cFut)"/>
</g>
<g stroke="#1c1c1c" stroke-width="1.15" stroke-dasharray="1.6 1.8" fill="none">
<path d="M940.5 541.3V623.9"/><path d="M940.5 541.3H1586.0"/><path d="M1177.5 319.5V623.9"/><path d="M1286 308V623.9"/><path d="M1286 308H1586.0"/>
</g>
<path d="M1305.7 70.6V623.9" stroke="#2a2a2a" stroke-width="1.4" stroke-dasharray="8.5 3.45" fill="none"/>
<path d="M12.0 70.6H1586.9" stroke="#444" stroke-width="1.3" fill="none"/>
<path d="M12.6 70.6V623.9" stroke="#555" stroke-width="1.2" fill="none"/>
<path d="M1586.0 70.6V624.8" stroke="#9b9b9d" stroke-width="1.8" fill="none"/>
<path d="M12.0 623.9H1586.9" stroke="#969696" stroke-width="1.7" fill="none"/>
<text x="12.6" y="55.2" style="font-size:13.3px;font-weight:700;font-style:italic;fill:#000" textLength="193.5" lengthAdjust="spacingAndGlyphs">WATER SOURCES OVER TIME</text>
<text x="12.8" y="66.9" style="font-size:10px;fill:#000" textLength="201" lengthAdjust="spacingAndGlyphs">The Amount of Water From Different Sources</text>
<text x="14.0" y="79.0" class="tr" textLength="107.7" lengthAdjust="spacingAndGlyphs">MLD (Million Litres Per Day)</text>
<text x="1476.8" y="79.2" class="tr" textLength="107.7" lengthAdjust="spacingAndGlyphs">MLD (Million Litres Per Day)</text>
<text x="91.6" y="114.6" class="ic" textLength="89.6" lengthAdjust="spacingAndGlyphs">Lake and Open Tanks</text>
<text x="244.8" y="114.7" class="ic" textLength="48.6" lengthAdjust="spacingAndGlyphs">Open Wells</text>
<text x="91.6" y="160.5" class="ic" textLength="40.4" lengthAdjust="spacingAndGlyphs">Stepwells</text>
<text x="91.6" y="207.8" class="ic" textLength="61.4" lengthAdjust="spacingAndGlyphs">Covered Tanks</text>
<text x="511.6" y="114.6" class="ic" textLength="138.4" lengthAdjust="spacingAndGlyphs">Steamed Engine: Pumps &amp; Dams</text>
<text x="722.6" y="114.6" class="ic" textLength="72.7" lengthAdjust="spacingAndGlyphs">More Open Wells</text>
<text x="722.7" y="160.8" class="ic" textLength="74.2" lengthAdjust="spacingAndGlyphs">Hand Pump Wells</text>
<text x="722.6" y="207.2" class="ic" textLength="68.0" lengthAdjust="spacingAndGlyphs">Overhead Tanks</text>
<text x="722.7" y="253.3" class="ic" textLength="61.0" lengthAdjust="spacingAndGlyphs">Ramgarh Dam</text>
<text x="1014.0" y="114.6" class="ic" textLength="71.9" lengthAdjust="spacingAndGlyphs">Tubewell Drilling</text>
<text x="1225.6" y="114.6" class="ic" textLength="56.3" lengthAdjust="spacingAndGlyphs">Bisalpur Dam</text>
<text x="1421.7" y="114.6" class="ic" textLength="61.4" lengthAdjust="spacingAndGlyphs">Another Dam?</text>
<text x="14.1" y="168.8" class="tk" textLength="14.0" lengthAdjust="spacingAndGlyphs">400</text>
<text x="1569.4" y="168.8" class="tk" textLength="13.9" lengthAdjust="spacingAndGlyphs">400</text>
<text x="14.1" y="273.3" class="tk" textLength="14.0" lengthAdjust="spacingAndGlyphs">300</text>
<text x="1569.4" y="273.3" class="tk" textLength="13.9" lengthAdjust="spacingAndGlyphs">300</text>
<text x="14.1" y="377.4" class="tk" textLength="14.0" lengthAdjust="spacingAndGlyphs">200</text>
<text x="1569.4" y="377.4" class="tk" textLength="13.9" lengthAdjust="spacingAndGlyphs">200</text>
<text x="14.1" y="498.2" class="tk" textLength="14.0" lengthAdjust="spacingAndGlyphs">100</text>
<text x="1569.4" y="498.2" class="tk" textLength="13.9" lengthAdjust="spacingAndGlyphs">100</text>
<text x="12.6" y="640.0" class="yr" textLength="26.3" lengthAdjust="spacingAndGlyphs">1800</text>
<text x="283.5" y="640.0" class="yr" textLength="26.3" lengthAdjust="spacingAndGlyphs">1850</text>
<text x="561.6" y="640.0" class="yr" textLength="26.3" lengthAdjust="spacingAndGlyphs">1900</text>
<text x="836.2" y="640.0" class="yr" textLength="26.3" lengthAdjust="spacingAndGlyphs">1950</text>
<text x="1115.2" y="640.0" class="yr" textLength="26.3" lengthAdjust="spacingAndGlyphs">2000</text>
<text x="1292.2" y="640.0" class="yr" textLength="26.3" lengthAdjust="spacingAndGlyphs">2020</text>
<text x="16.4" y="550.8" class="t" textLength="96.0" lengthAdjust="spacingAndGlyphs">Open Tanks / Stepwells</text>
<text x="16.5" y="579.8" class="t" textLength="62.7" lengthAdjust="spacingAndGlyphs">Water Demand</text>
<text x="16.5" y="597.3" class="t" textLength="55.7" lengthAdjust="spacingAndGlyphs">Groundwater</text>
<text x="16.5" y="609.8" class="t" textLength="67.6" lengthAdjust="spacingAndGlyphs">Amanishah Nala</text>
<text x="947.0" y="351.8" class="s" textLength="68.7" lengthAdjust="spacing">Water Demand</text>
<text x="1019.9" y="423.9" class="s" textLength="59.9" lengthAdjust="spacing">Groundwater</text>
<text x="947.6" y="575.9" class="t" textLength="66.4" lengthAdjust="spacingAndGlyphs">Ramgarh Dam</text>
<text x="1312.7" y="326.8" class="t" textLength="59.5" lengthAdjust="spacingAndGlyphs">Bisalpur Dam</text>
<text x="925.4" y="536.6" class="t" textLength="34.8" lengthAdjust="spacingAndGlyphs">72 MLD</text>
<text x="1158.4" y="316.4" class="t" textLength="41.2" lengthAdjust="spacingAndGlyphs">290 MLD</text>
<text x="1252.9" y="305.0" class="t" textLength="43.6" lengthAdjust="spacingAndGlyphs">275 MLD</text>
<text x="1516.0" y="136.5" class="s" textLength="67.7" lengthAdjust="spacing">Water Demand</text>
<text x="1523.8" y="585.2" class="s" textLength="60.7" lengthAdjust="spacing">Groundwater</text>
<text x="1510.8" y="612.2" class="s" textLength="73.2" lengthAdjust="spacing">Amanishah Nala</text>
<text x="1483.7" y="620.6" class="s" textLength="100.3" lengthAdjust="spacing">Open Tanks/Stepwells</text>
<rect x="14.6" y="663.35" width="8.4" height="8.4" fill="#f0e6e8" stroke="#c98a9d" stroke-width="1.3"/><text x="26.7" y="670.3" class="lg" textLength="66.6" lengthAdjust="spacingAndGlyphs">Water Demand</text>
<rect x="14.6" y="677.90" width="8.4" height="8.4" fill="#e4eff6" stroke="#7fb2dd" stroke-width="1.3"/><text x="26.7" y="684.8" class="lg" textLength="169.8" lengthAdjust="spacingAndGlyphs">Water Supply - Open Tanks / Stepwells</text>
<rect x="14.6" y="692.45" width="8.4" height="8.4" fill="#bccdd8" stroke="#14647a" stroke-width="1.3"/><text x="26.7" y="699.4" class="lg" textLength="126.3" lengthAdjust="spacingAndGlyphs">Water Supply - Groundwater</text>
<rect x="14.6" y="707.00" width="8.4" height="8.4" fill="#8fb6c6" stroke="#2aa59f" stroke-width="1.3"/><text x="26.7" y="713.9" class="lg" textLength="191.5" lengthAdjust="spacingAndGlyphs">Water Supply -  Amanishah Nala (The River)</text>
<rect x="14.6" y="721.55" width="8.4" height="8.4" fill="#bccdd7" stroke="#80a6af" stroke-width="1.3"/><text x="26.7" y="728.5" class="lg" textLength="129.3" lengthAdjust="spacingAndGlyphs">Water Supply - Ramgarh Dam</text>
<rect x="14.6" y="736.10" width="8.4" height="8.4" fill="#b4ccd4" stroke="#5f9396" stroke-width="1.3"/><text x="26.7" y="743.0" class="lg" textLength="125.5" lengthAdjust="spacingAndGlyphs">Water Supply - Bisalpur Dam</text>
</svg>
</body>
</html>
